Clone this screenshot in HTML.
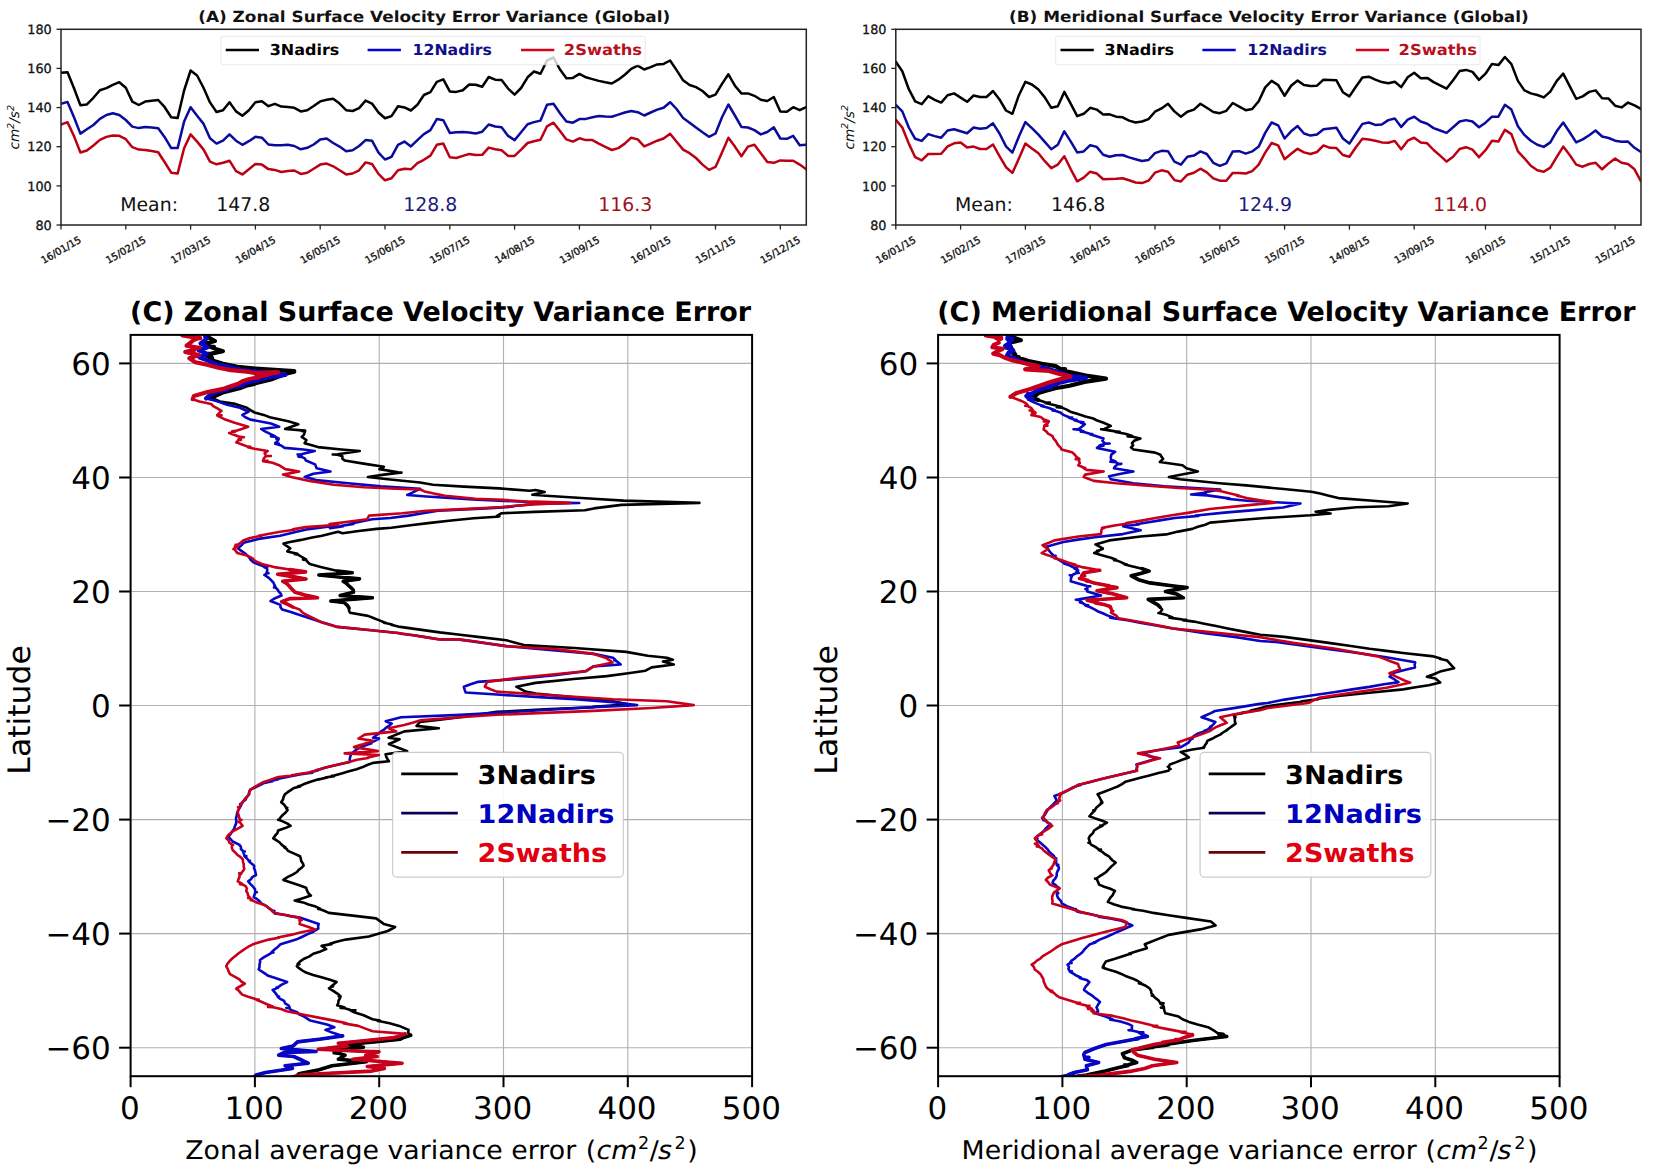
<!DOCTYPE html><html><head><meta charset="utf-8"><title>Surface Velocity Error Variance</title><style>html,body{margin:0;padding:0;background:#fff;overflow:hidden;}svg{display:block;} text{font-family:'DejaVu Sans', 'Liberation Sans', sans-serif;text-rendering:geometricPrecision;}</style></head><body>
<svg width="1654" height="1171" viewBox="0 0 1654 1171">
<rect x="0" y="0" width="1654" height="1171" fill="#fff"/>
<defs>
<clipPath id="cA"><rect x="61.0" y="29.3" width="745.3" height="195.7"/></clipPath>
<clipPath id="cB"><rect x="895.8" y="29.3" width="745.2" height="195.7"/></clipPath>
<clipPath id="cL"><rect x="130.6" y="334.9" width="621.5" height="741.3"/></clipPath>
<clipPath id="cR"><rect x="938.1" y="334.9" width="621.5" height="741.3"/></clipPath>
</defs>
<text transform="translate(198.20,21.50) scale(1.0970,1.0000)" font-size="15.4" font-weight="bold" fill="#111">(A) Zonal Surface Velocity Error Variance (Global)</text>
<polyline points="61.0,72.8 67.5,72.2 74.0,88.3 80.4,105.2 86.9,104.4 93.4,97.8 99.9,90.3 106.4,88.1 112.8,84.8 119.3,82.2 125.8,87.8 132.3,101.6 138.8,105.0 145.2,101.6 151.7,100.8 158.2,100.0 164.7,107.2 171.2,117.2 177.6,118.1 184.1,90.5 190.6,70.5 197.1,75.5 203.6,88.0 210.0,102.4 216.5,112.0 223.0,110.2 229.5,102.2 236.0,111.4 242.4,115.8 248.9,110.2 255.4,102.2 261.9,101.2 268.4,106.2 274.8,103.8 281.3,106.6 287.8,106.9 294.3,107.8 300.8,111.4 307.2,110.2 313.7,106.0 320.2,101.4 326.7,99.8 333.2,98.8 339.6,103.6 346.1,110.2 352.6,111.0 359.1,108.1 365.6,100.6 372.0,103.6 378.5,112.5 385.0,118.2 391.5,116.1 398.0,106.2 404.4,107.4 410.9,110.5 417.4,104.8 423.9,95.0 430.4,92.2 436.8,81.8 443.3,79.4 449.8,91.4 456.3,91.9 462.8,90.2 469.2,84.5 475.7,84.7 482.2,86.8 488.7,77.0 495.2,79.7 501.6,79.9 508.1,88.6 514.6,94.6 521.1,88.0 527.6,77.3 534.0,71.5 540.5,73.7 547.0,60.5 553.5,57.5 560.0,69.5 566.4,78.2 572.9,77.9 579.4,73.9 585.9,77.3 592.4,79.1 598.8,80.9 605.3,82.3 611.8,83.5 618.3,79.7 624.8,74.7 631.2,68.9 637.7,65.6 644.2,69.5 650.7,67.1 657.2,64.4 663.6,63.9 670.1,60.5 676.6,70.1 683.1,80.3 689.6,85.0 696.0,87.1 702.5,91.0 709.0,97.0 715.5,94.6 722.0,83.9 728.4,74.3 734.9,85.7 741.4,93.4 747.9,93.4 754.4,95.8 760.8,99.8 767.3,101.0 773.8,97.0 780.3,111.4 786.8,111.7 793.2,107.2 799.7,110.2 806.2,107.2" fill="none" stroke="#000" stroke-width="2.5" stroke-linejoin="round" stroke-linecap="round" clip-path="url(#cA)"/>
<polyline points="61.0,103.9 67.5,101.9 74.0,117.2 80.4,133.6 86.9,129.2 93.4,125.0 99.9,118.8 106.4,115.0 112.8,113.3 119.3,115.0 125.8,120.0 132.3,126.6 138.8,128.1 145.2,127.0 151.7,127.4 158.2,128.3 164.7,137.2 171.2,148.1 177.6,148.1 184.1,121.6 190.6,107.2 197.1,115.8 203.6,123.9 210.0,138.3 216.5,143.6 223.0,140.7 229.5,134.4 236.0,140.7 242.4,144.8 248.9,141.2 255.4,136.8 261.9,137.7 268.4,144.5 274.8,145.2 281.3,145.2 287.8,144.8 294.3,146.0 300.8,149.3 307.2,147.8 313.7,144.5 320.2,139.4 326.7,138.5 333.2,143.0 339.6,146.6 346.1,151.2 352.6,150.2 359.1,146.0 365.6,140.1 372.0,140.7 378.5,152.6 385.0,159.5 391.5,156.8 398.0,144.8 404.4,141.6 410.9,146.4 417.4,140.1 423.9,134.1 430.4,130.1 436.8,119.1 443.3,120.3 449.8,132.9 456.3,132.3 462.8,132.0 469.2,132.5 475.7,133.5 482.2,131.7 488.7,124.5 495.2,126.5 501.6,127.3 508.1,135.9 514.6,140.1 521.1,132.3 527.6,124.2 534.0,122.1 540.5,120.6 547.0,104.8 553.5,103.8 560.0,113.2 566.4,121.5 572.9,122.7 579.4,119.1 585.9,118.9 592.4,117.3 598.8,116.1 605.3,116.5 611.8,116.7 618.3,114.6 624.8,112.5 631.2,111.0 637.7,112.2 644.2,115.5 650.7,112.5 657.2,109.6 663.6,107.8 670.1,102.2 676.6,109.0 683.1,117.9 689.6,122.7 696.0,127.5 702.5,132.3 709.0,136.8 715.5,133.5 722.0,117.3 728.4,104.5 734.9,115.5 741.4,126.9 747.9,127.5 754.4,130.1 760.8,134.4 767.3,132.0 773.8,127.3 780.3,138.5 786.8,138.8 793.2,135.9 799.7,145.2 806.2,144.8" fill="none" stroke="#0a0a9c" stroke-width="2.5" stroke-linejoin="round" stroke-linecap="round" clip-path="url(#cA)"/>
<polyline points="61.0,124.7 67.5,122.2 74.0,136.1 80.4,152.5 86.9,150.5 93.4,145.5 99.9,139.9 106.4,136.9 112.8,135.5 119.3,135.8 125.8,139.2 132.3,147.2 138.8,149.6 145.2,149.9 151.7,151.1 158.2,152.2 164.7,162.2 171.2,172.7 177.6,173.6 184.1,148.3 190.6,134.4 197.1,141.6 203.6,149.6 210.0,161.6 216.5,164.3 223.0,162.8 229.5,160.7 236.0,171.1 242.4,174.4 248.9,169.3 255.4,164.0 261.9,164.6 268.4,169.1 274.8,169.9 281.3,172.0 287.8,171.1 294.3,170.5 300.8,173.9 307.2,172.7 313.7,168.7 320.2,164.6 326.7,163.6 333.2,166.3 339.6,170.3 346.1,174.4 352.6,173.5 359.1,170.3 365.6,162.4 372.0,164.0 378.5,173.9 385.0,180.3 391.5,178.3 398.0,170.3 404.4,168.7 410.9,169.3 417.4,163.1 423.9,159.8 430.4,155.6 436.8,144.8 443.3,143.6 449.8,157.2 456.3,158.0 462.8,155.9 469.2,154.0 475.7,155.0 482.2,154.8 488.7,147.6 495.2,149.3 501.6,150.2 508.1,155.9 514.6,155.9 521.1,149.6 527.6,143.0 534.0,141.2 540.5,139.7 547.0,126.3 553.5,122.7 560.0,131.1 566.4,139.4 572.9,141.6 579.4,138.3 585.9,140.1 592.4,140.1 598.8,143.6 605.3,146.9 611.8,150.0 618.3,148.1 624.8,143.6 631.2,137.7 637.7,139.4 644.2,146.4 650.7,143.6 657.2,140.7 663.6,138.5 670.1,133.7 676.6,141.8 683.1,149.6 689.6,153.2 696.0,158.0 702.5,164.6 709.0,169.9 715.5,166.9 722.0,152.6 728.4,137.7 734.9,146.6 741.4,156.2 747.9,146.6 754.4,144.8 760.8,153.2 767.3,161.9 773.8,162.8 780.3,160.4 786.8,160.7 793.2,160.7 799.7,164.6 806.2,169.3" fill="none" stroke="#bc0014" stroke-width="2.5" stroke-linejoin="round" stroke-linecap="round" clip-path="url(#cA)"/>
<line x1="56.5" y1="225.0" x2="61.0" y2="225.0" stroke="#222" stroke-width="1.3"/>
<text transform="translate(51.70,229.70)" font-size="12.8" text-anchor="end" fill="#111" stroke="#111" stroke-width="0.3">80</text>
<line x1="56.5" y1="185.9" x2="61.0" y2="185.9" stroke="#222" stroke-width="1.3"/>
<text transform="translate(51.70,190.56)" font-size="12.8" text-anchor="end" fill="#111" stroke="#111" stroke-width="0.3">100</text>
<line x1="56.5" y1="146.7" x2="61.0" y2="146.7" stroke="#222" stroke-width="1.3"/>
<text transform="translate(51.70,151.42)" font-size="12.8" text-anchor="end" fill="#111" stroke="#111" stroke-width="0.3">120</text>
<line x1="56.5" y1="107.6" x2="61.0" y2="107.6" stroke="#222" stroke-width="1.3"/>
<text transform="translate(51.70,112.28)" font-size="12.8" text-anchor="end" fill="#111" stroke="#111" stroke-width="0.3">140</text>
<line x1="56.5" y1="68.4" x2="61.0" y2="68.4" stroke="#222" stroke-width="1.3"/>
<text transform="translate(51.70,73.14)" font-size="12.8" text-anchor="end" fill="#111" stroke="#111" stroke-width="0.3">160</text>
<line x1="56.5" y1="29.3" x2="61.0" y2="29.3" stroke="#222" stroke-width="1.3"/>
<text transform="translate(51.70,34.00)" font-size="12.8" text-anchor="end" fill="#111" stroke="#111" stroke-width="0.3">180</text>
<line x1="61.0" y1="225.0" x2="61.0" y2="229.6" stroke="#222" stroke-width="1.3"/>
<text transform="translate(61.00,249.90) rotate(-30)" y="3.50" font-size="9.9" text-anchor="middle" fill="#111" stroke="#111" stroke-width="0.35">16/01/15</text>
<line x1="125.8" y1="225.0" x2="125.8" y2="229.6" stroke="#222" stroke-width="1.3"/>
<text transform="translate(125.80,249.90) rotate(-30)" y="3.50" font-size="9.9" text-anchor="middle" fill="#111" stroke="#111" stroke-width="0.35">15/02/15</text>
<line x1="190.6" y1="225.0" x2="190.6" y2="229.6" stroke="#222" stroke-width="1.3"/>
<text transform="translate(190.60,249.90) rotate(-30)" y="3.50" font-size="9.9" text-anchor="middle" fill="#111" stroke="#111" stroke-width="0.35">17/03/15</text>
<line x1="255.4" y1="225.0" x2="255.4" y2="229.6" stroke="#222" stroke-width="1.3"/>
<text transform="translate(255.40,249.90) rotate(-30)" y="3.50" font-size="9.9" text-anchor="middle" fill="#111" stroke="#111" stroke-width="0.35">16/04/15</text>
<line x1="320.2" y1="225.0" x2="320.2" y2="229.6" stroke="#222" stroke-width="1.3"/>
<text transform="translate(320.20,249.90) rotate(-30)" y="3.50" font-size="9.9" text-anchor="middle" fill="#111" stroke="#111" stroke-width="0.35">16/05/15</text>
<line x1="385.0" y1="225.0" x2="385.0" y2="229.6" stroke="#222" stroke-width="1.3"/>
<text transform="translate(385.00,249.90) rotate(-30)" y="3.50" font-size="9.9" text-anchor="middle" fill="#111" stroke="#111" stroke-width="0.35">15/06/15</text>
<line x1="449.8" y1="225.0" x2="449.8" y2="229.6" stroke="#222" stroke-width="1.3"/>
<text transform="translate(449.80,249.90) rotate(-30)" y="3.50" font-size="9.9" text-anchor="middle" fill="#111" stroke="#111" stroke-width="0.35">15/07/15</text>
<line x1="514.6" y1="225.0" x2="514.6" y2="229.6" stroke="#222" stroke-width="1.3"/>
<text transform="translate(514.60,249.90) rotate(-30)" y="3.50" font-size="9.9" text-anchor="middle" fill="#111" stroke="#111" stroke-width="0.35">14/08/15</text>
<line x1="579.4" y1="225.0" x2="579.4" y2="229.6" stroke="#222" stroke-width="1.3"/>
<text transform="translate(579.40,249.90) rotate(-30)" y="3.50" font-size="9.9" text-anchor="middle" fill="#111" stroke="#111" stroke-width="0.35">13/09/15</text>
<line x1="650.7" y1="225.0" x2="650.7" y2="229.6" stroke="#222" stroke-width="1.3"/>
<text transform="translate(650.68,249.90) rotate(-30)" y="3.50" font-size="9.9" text-anchor="middle" fill="#111" stroke="#111" stroke-width="0.35">16/10/15</text>
<line x1="715.5" y1="225.0" x2="715.5" y2="229.6" stroke="#222" stroke-width="1.3"/>
<text transform="translate(715.48,249.90) rotate(-30)" y="3.50" font-size="9.9" text-anchor="middle" fill="#111" stroke="#111" stroke-width="0.35">15/11/15</text>
<line x1="780.3" y1="225.0" x2="780.3" y2="229.6" stroke="#222" stroke-width="1.3"/>
<text transform="translate(780.28,249.90) rotate(-30)" y="3.50" font-size="9.9" text-anchor="middle" fill="#111" stroke="#111" stroke-width="0.35">15/12/15</text>
<text transform="translate(18.7,127.3) rotate(-90)" font-size="13.6" font-style="italic" text-anchor="middle" fill="#111">cm<tspan dy="-5.2" font-size="9.6">2</tspan><tspan dy="5.2">/s</tspan><tspan dy="-5.2" font-size="9.6">2</tspan></text>
<rect x="220.9" y="36.3" width="424.3" height="28.5" rx="2" fill="#fff" fill-opacity="0.8" stroke="#e2e2e2" stroke-width="0.8"/>
<line x1="225.7" y1="50" x2="259.0" y2="50" stroke="#000" stroke-width="2.5"/>
<text transform="translate(269.70,55.30) scale(1.0660,1.0000)" font-size="15" font-weight="bold" fill="#000">3Nadirs</text>
<line x1="367.6" y1="50" x2="400.9" y2="50" stroke="#0000d8" stroke-width="2.5"/>
<text transform="translate(412.50,55.30) scale(1.0490,1.0000)" font-size="15" font-weight="bold" fill="#10108a">12Nadirs</text>
<line x1="521.0" y1="50" x2="554.3" y2="50" stroke="#d8001c" stroke-width="2.5"/>
<text transform="translate(563.80,55.30) scale(1.0870,1.0000)" font-size="15" font-weight="bold" fill="#b8101c">2Swaths</text>
<text transform="translate(120.20,211.10)" font-size="18.9" fill="#111">Mean:</text>
<text transform="translate(216.30,211.10)" font-size="18.9" fill="#111">147.8</text>
<text transform="translate(403.20,211.10)" font-size="18.9" fill="#1a1a80">128.8</text>
<text transform="translate(598.20,211.10)" font-size="18.9" fill="#a01020">116.3</text>
<rect x="61.0" y="29.3" width="745.3" height="195.7" fill="none" stroke="#222" stroke-width="1.5"/>
<text transform="translate(1009.00,21.50) scale(1.0970,1.0000)" font-size="15.4" font-weight="bold" fill="#111">(B) Meridional Surface Velocity Error Variance (Global)</text>
<polyline points="895.8,61.7 902.3,71.3 908.8,89.2 915.2,101.4 921.7,104.2 928.2,96.2 934.7,99.8 941.2,102.6 947.6,95.2 954.1,93.4 960.6,97.6 967.1,101.8 973.6,95.5 980.0,97.0 986.5,97.0 993.0,91.0 999.5,99.4 1006.0,110.5 1012.4,113.8 1018.9,95.2 1025.4,81.8 1031.9,84.5 1038.4,89.5 1044.8,97.4 1051.3,107.8 1057.8,106.2 1064.3,91.9 1070.8,103.8 1077.2,116.1 1083.7,113.8 1090.2,107.8 1096.7,109.6 1103.2,114.6 1109.6,114.3 1116.1,116.7 1122.6,117.3 1129.1,120.6 1135.6,122.5 1142.0,121.5 1148.5,119.1 1155.0,111.7 1161.5,108.4 1168.0,103.8 1174.4,111.4 1180.9,116.7 1187.4,111.7 1193.9,109.6 1200.4,103.8 1206.8,107.8 1213.3,112.0 1219.8,113.2 1226.3,110.8 1232.8,103.0 1239.2,106.6 1245.7,110.2 1252.2,109.0 1258.7,101.2 1265.2,87.4 1271.6,80.9 1278.1,85.0 1284.6,95.8 1291.1,85.7 1297.6,80.6 1304.0,85.0 1310.5,85.9 1317.0,85.7 1323.5,79.7 1330.0,79.9 1336.4,80.3 1342.9,92.2 1349.4,96.4 1355.9,86.8 1362.4,77.5 1368.8,76.7 1375.3,79.7 1381.8,82.1 1388.3,83.3 1394.8,81.8 1401.2,87.1 1407.7,77.3 1414.2,72.7 1420.7,78.2 1427.2,77.9 1433.6,82.1 1440.1,85.4 1446.6,88.6 1453.1,80.3 1459.6,71.1 1466.0,69.9 1472.5,71.9 1479.0,79.9 1485.5,73.7 1492.0,63.9 1498.4,65.1 1504.9,57.0 1511.4,64.1 1517.9,80.9 1524.4,90.4 1530.8,93.4 1537.3,95.0 1543.8,97.4 1550.3,91.6 1556.8,80.9 1563.2,73.7 1569.7,86.2 1576.2,98.8 1582.7,96.4 1589.2,91.9 1595.6,90.4 1602.1,98.2 1608.6,98.6 1615.1,105.7 1621.6,107.4 1628.0,102.6 1634.5,105.4 1641.0,109.0" fill="none" stroke="#000" stroke-width="2.5" stroke-linejoin="round" stroke-linecap="round" clip-path="url(#cB)"/>
<polyline points="895.8,104.8 902.3,111.4 908.8,127.5 915.2,138.8 921.7,140.9 928.2,134.1 934.7,136.1 941.2,137.7 947.6,130.5 954.1,129.3 960.6,131.3 967.1,133.2 973.6,127.5 980.0,128.7 986.5,128.1 993.0,123.3 999.5,133.5 1006.0,146.4 1012.4,152.6 1018.9,136.5 1025.4,122.1 1031.9,128.1 1038.4,134.7 1044.8,141.8 1051.3,149.3 1057.8,144.8 1064.3,131.3 1070.8,141.6 1077.2,152.4 1083.7,151.4 1090.2,145.2 1096.7,146.9 1103.2,154.8 1109.6,156.8 1116.1,155.2 1122.6,155.0 1129.1,157.4 1135.6,159.2 1142.0,161.0 1148.5,160.0 1155.0,153.2 1161.5,150.8 1168.0,151.2 1174.4,161.6 1180.9,164.6 1187.4,156.8 1193.9,155.6 1200.4,151.4 1206.8,154.0 1213.3,162.8 1219.8,165.8 1226.3,163.4 1232.8,151.4 1239.2,151.2 1245.7,153.6 1252.2,151.4 1258.7,146.6 1265.2,132.9 1271.6,122.5 1278.1,125.3 1284.6,138.5 1291.1,131.3 1297.6,126.1 1304.0,133.5 1310.5,135.6 1317.0,134.4 1323.5,129.3 1330.0,128.4 1336.4,127.7 1342.9,138.5 1349.4,143.6 1355.9,133.5 1362.4,123.9 1368.8,122.5 1375.3,124.9 1381.8,124.5 1388.3,120.1 1394.8,118.5 1401.2,126.9 1407.7,119.7 1414.2,116.7 1420.7,121.5 1427.2,123.7 1433.6,128.1 1440.1,130.5 1446.6,132.9 1453.1,127.3 1459.6,121.5 1466.0,120.1 1472.5,121.5 1479.0,127.3 1485.5,122.7 1492.0,116.7 1498.4,116.7 1504.9,104.8 1511.4,109.6 1517.9,126.3 1524.4,134.9 1530.8,140.7 1537.3,144.8 1543.8,146.9 1550.3,142.4 1556.8,131.1 1563.2,122.5 1569.7,132.3 1576.2,142.4 1582.7,139.4 1589.2,135.3 1595.6,130.5 1602.1,136.5 1608.6,138.0 1615.1,140.7 1621.6,141.8 1628.0,141.6 1634.5,147.8 1641.0,152.0" fill="none" stroke="#0a0a9c" stroke-width="2.5" stroke-linejoin="round" stroke-linecap="round" clip-path="url(#cB)"/>
<polyline points="895.8,119.7 902.3,127.5 908.8,143.6 915.2,157.2 921.7,160.4 928.2,154.0 934.7,154.0 941.2,153.8 947.6,146.4 954.1,143.3 960.6,142.4 967.1,147.6 973.6,146.6 980.0,149.0 986.5,149.0 993.0,144.5 999.5,156.2 1006.0,167.2 1012.4,172.9 1018.9,158.6 1025.4,143.6 1031.9,148.4 1038.4,153.2 1044.8,161.2 1051.3,168.2 1057.8,164.6 1064.3,156.2 1070.8,169.3 1077.2,181.3 1083.7,177.7 1090.2,171.7 1096.7,173.5 1103.2,179.2 1109.6,178.9 1116.1,178.7 1122.6,178.3 1129.1,180.3 1135.6,182.5 1142.0,183.1 1148.5,180.7 1155.0,172.7 1161.5,170.3 1168.0,171.7 1174.4,180.1 1180.9,181.5 1187.4,174.7 1193.9,172.7 1200.4,168.7 1206.8,172.3 1213.3,178.3 1219.8,180.7 1226.3,180.7 1232.8,172.9 1239.2,172.9 1245.7,173.5 1252.2,171.1 1258.7,164.6 1265.2,152.6 1271.6,143.0 1278.1,145.4 1284.6,159.2 1291.1,153.8 1297.6,148.8 1304.0,152.4 1310.5,154.0 1317.0,152.0 1323.5,145.4 1330.0,147.8 1336.4,148.1 1342.9,155.0 1349.4,156.8 1355.9,147.2 1362.4,138.8 1368.8,139.4 1375.3,140.7 1381.8,142.4 1388.3,142.8 1394.8,140.9 1401.2,149.3 1407.7,140.7 1414.2,137.7 1420.7,142.4 1427.2,143.3 1433.6,150.0 1440.1,155.6 1446.6,161.6 1453.1,156.8 1459.6,149.0 1466.0,147.2 1472.5,149.6 1479.0,157.2 1485.5,150.2 1492.0,140.7 1498.4,141.6 1504.9,129.9 1511.4,134.1 1517.9,151.4 1524.4,158.3 1530.8,165.8 1537.3,170.3 1543.8,171.7 1550.3,167.6 1556.8,156.8 1563.2,146.6 1569.7,155.0 1576.2,164.6 1582.7,166.7 1589.2,164.0 1595.6,162.8 1602.1,169.3 1608.6,163.4 1615.1,158.6 1621.6,162.8 1628.0,164.0 1634.5,169.3 1641.0,181.3" fill="none" stroke="#bc0014" stroke-width="2.5" stroke-linejoin="round" stroke-linecap="round" clip-path="url(#cB)"/>
<line x1="891.3" y1="225.0" x2="895.8" y2="225.0" stroke="#222" stroke-width="1.3"/>
<text transform="translate(886.50,229.70)" font-size="12.8" text-anchor="end" fill="#111" stroke="#111" stroke-width="0.3">80</text>
<line x1="891.3" y1="185.9" x2="895.8" y2="185.9" stroke="#222" stroke-width="1.3"/>
<text transform="translate(886.50,190.56)" font-size="12.8" text-anchor="end" fill="#111" stroke="#111" stroke-width="0.3">100</text>
<line x1="891.3" y1="146.7" x2="895.8" y2="146.7" stroke="#222" stroke-width="1.3"/>
<text transform="translate(886.50,151.42)" font-size="12.8" text-anchor="end" fill="#111" stroke="#111" stroke-width="0.3">120</text>
<line x1="891.3" y1="107.6" x2="895.8" y2="107.6" stroke="#222" stroke-width="1.3"/>
<text transform="translate(886.50,112.28)" font-size="12.8" text-anchor="end" fill="#111" stroke="#111" stroke-width="0.3">140</text>
<line x1="891.3" y1="68.4" x2="895.8" y2="68.4" stroke="#222" stroke-width="1.3"/>
<text transform="translate(886.50,73.14)" font-size="12.8" text-anchor="end" fill="#111" stroke="#111" stroke-width="0.3">160</text>
<line x1="891.3" y1="29.3" x2="895.8" y2="29.3" stroke="#222" stroke-width="1.3"/>
<text transform="translate(886.50,34.00)" font-size="12.8" text-anchor="end" fill="#111" stroke="#111" stroke-width="0.3">180</text>
<line x1="895.8" y1="225.0" x2="895.8" y2="229.6" stroke="#222" stroke-width="1.3"/>
<text transform="translate(895.80,249.90) rotate(-30)" y="3.50" font-size="9.9" text-anchor="middle" fill="#111" stroke="#111" stroke-width="0.35">16/01/15</text>
<line x1="960.6" y1="225.0" x2="960.6" y2="229.6" stroke="#222" stroke-width="1.3"/>
<text transform="translate(960.60,249.90) rotate(-30)" y="3.50" font-size="9.9" text-anchor="middle" fill="#111" stroke="#111" stroke-width="0.35">15/02/15</text>
<line x1="1025.4" y1="225.0" x2="1025.4" y2="229.6" stroke="#222" stroke-width="1.3"/>
<text transform="translate(1025.40,249.90) rotate(-30)" y="3.50" font-size="9.9" text-anchor="middle" fill="#111" stroke="#111" stroke-width="0.35">17/03/15</text>
<line x1="1090.2" y1="225.0" x2="1090.2" y2="229.6" stroke="#222" stroke-width="1.3"/>
<text transform="translate(1090.20,249.90) rotate(-30)" y="3.50" font-size="9.9" text-anchor="middle" fill="#111" stroke="#111" stroke-width="0.35">16/04/15</text>
<line x1="1155.0" y1="225.0" x2="1155.0" y2="229.6" stroke="#222" stroke-width="1.3"/>
<text transform="translate(1155.00,249.90) rotate(-30)" y="3.50" font-size="9.9" text-anchor="middle" fill="#111" stroke="#111" stroke-width="0.35">16/05/15</text>
<line x1="1219.8" y1="225.0" x2="1219.8" y2="229.6" stroke="#222" stroke-width="1.3"/>
<text transform="translate(1219.80,249.90) rotate(-30)" y="3.50" font-size="9.9" text-anchor="middle" fill="#111" stroke="#111" stroke-width="0.35">15/06/15</text>
<line x1="1284.6" y1="225.0" x2="1284.6" y2="229.6" stroke="#222" stroke-width="1.3"/>
<text transform="translate(1284.60,249.90) rotate(-30)" y="3.50" font-size="9.9" text-anchor="middle" fill="#111" stroke="#111" stroke-width="0.35">15/07/15</text>
<line x1="1349.4" y1="225.0" x2="1349.4" y2="229.6" stroke="#222" stroke-width="1.3"/>
<text transform="translate(1349.40,249.90) rotate(-30)" y="3.50" font-size="9.9" text-anchor="middle" fill="#111" stroke="#111" stroke-width="0.35">14/08/15</text>
<line x1="1414.2" y1="225.0" x2="1414.2" y2="229.6" stroke="#222" stroke-width="1.3"/>
<text transform="translate(1414.20,249.90) rotate(-30)" y="3.50" font-size="9.9" text-anchor="middle" fill="#111" stroke="#111" stroke-width="0.35">13/09/15</text>
<line x1="1485.5" y1="225.0" x2="1485.5" y2="229.6" stroke="#222" stroke-width="1.3"/>
<text transform="translate(1485.48,249.90) rotate(-30)" y="3.50" font-size="9.9" text-anchor="middle" fill="#111" stroke="#111" stroke-width="0.35">16/10/15</text>
<line x1="1550.3" y1="225.0" x2="1550.3" y2="229.6" stroke="#222" stroke-width="1.3"/>
<text transform="translate(1550.28,249.90) rotate(-30)" y="3.50" font-size="9.9" text-anchor="middle" fill="#111" stroke="#111" stroke-width="0.35">15/11/15</text>
<line x1="1615.1" y1="225.0" x2="1615.1" y2="229.6" stroke="#222" stroke-width="1.3"/>
<text transform="translate(1615.08,249.90) rotate(-30)" y="3.50" font-size="9.9" text-anchor="middle" fill="#111" stroke="#111" stroke-width="0.35">15/12/15</text>
<text transform="translate(853.5,127.3) rotate(-90)" font-size="13.6" font-style="italic" text-anchor="middle" fill="#111">cm<tspan dy="-5.2" font-size="9.6">2</tspan><tspan dy="5.2">/s</tspan><tspan dy="-5.2" font-size="9.6">2</tspan></text>
<rect x="1055.7" y="36.3" width="424.3" height="28.5" rx="2" fill="#fff" fill-opacity="0.8" stroke="#e2e2e2" stroke-width="0.8"/>
<line x1="1060.5" y1="50" x2="1093.8" y2="50" stroke="#000" stroke-width="2.5"/>
<text transform="translate(1104.50,55.30) scale(1.0660,1.0000)" font-size="15" font-weight="bold" fill="#000">3Nadirs</text>
<line x1="1202.4" y1="50" x2="1235.7" y2="50" stroke="#0000d8" stroke-width="2.5"/>
<text transform="translate(1247.30,55.30) scale(1.0490,1.0000)" font-size="15" font-weight="bold" fill="#10108a">12Nadirs</text>
<line x1="1355.8" y1="50" x2="1389.1" y2="50" stroke="#d8001c" stroke-width="2.5"/>
<text transform="translate(1398.60,55.30) scale(1.0870,1.0000)" font-size="15" font-weight="bold" fill="#b8101c">2Swaths</text>
<text transform="translate(955.00,211.10)" font-size="18.9" fill="#111">Mean:</text>
<text transform="translate(1051.10,211.10)" font-size="18.9" fill="#111">146.8</text>
<text transform="translate(1238.00,211.10)" font-size="18.9" fill="#1a1a80">124.9</text>
<text transform="translate(1433.00,211.10)" font-size="18.9" fill="#a01020">114.0</text>
<rect x="895.8" y="29.3" width="745.2" height="195.7" fill="none" stroke="#222" stroke-width="1.5"/>
<text transform="translate(130.10,321.20) scale(1.0045,1.0000)" font-size="26.8" font-weight="bold" fill="#000">(C) Zonal Surface Velocity Variance Error</text>
<line x1="254.9" y1="334.9" x2="254.9" y2="1076.2" stroke="#b0b0b0" stroke-width="1.1"/>
<line x1="379.2" y1="334.9" x2="379.2" y2="1076.2" stroke="#b0b0b0" stroke-width="1.1"/>
<line x1="503.5" y1="334.9" x2="503.5" y2="1076.2" stroke="#b0b0b0" stroke-width="1.1"/>
<line x1="627.8" y1="334.9" x2="627.8" y2="1076.2" stroke="#b0b0b0" stroke-width="1.1"/>
<line x1="130.6" y1="1047.7" x2="752.1" y2="1047.7" stroke="#b0b0b0" stroke-width="1.1"/>
<line x1="130.6" y1="933.6" x2="752.1" y2="933.6" stroke="#b0b0b0" stroke-width="1.1"/>
<line x1="130.6" y1="819.6" x2="752.1" y2="819.6" stroke="#b0b0b0" stroke-width="1.1"/>
<line x1="130.6" y1="705.5" x2="752.1" y2="705.5" stroke="#b0b0b0" stroke-width="1.1"/>
<line x1="130.6" y1="591.5" x2="752.1" y2="591.5" stroke="#b0b0b0" stroke-width="1.1"/>
<line x1="130.6" y1="477.5" x2="752.1" y2="477.5" stroke="#b0b0b0" stroke-width="1.1"/>
<line x1="130.6" y1="363.4" x2="752.1" y2="363.4" stroke="#b0b0b0" stroke-width="1.1"/>
<polyline points="208.0,335.5 205.1,335.8 208.0,336.1 209.7,338.2 214.9,341.0 203.2,344.1 210.8,346.5 213.9,346.8 210.8,347.1 215.6,348.9 222.9,351.2 211.3,353.6 208.1,353.9 211.3,354.2 210.5,355.7 206.8,356.0 210.5,356.3 209.4,357.8 212.2,358.1 209.4,358.4 210.6,359.9 223.0,363.8 237.4,366.9 255.2,368.5 294.2,371.2 291.0,371.5 294.2,371.8 286.9,373.4 281.3,375.6 270.9,379.5 254.4,383.4 250.8,383.7 254.4,384.0 246.0,385.8 239.6,388.2 223.7,392.1 217.6,394.8 211.1,397.6 219.9,401.5 235.2,403.9 246.9,407.8 250.5,410.2 254.5,412.5 263.7,414.9 269.8,417.2 288.2,421.2 298.3,424.3 291.2,426.7 285.1,429.0 305.1,430.6 301.2,430.9 305.1,431.2 304.6,432.7 303.8,434.8 301.7,436.9 306.4,440.0 304.6,443.2 318.0,447.1 341.5,449.5 359.8,451.0 337.7,454.2 332.7,454.5 337.7,454.8 342.4,456.3 342.2,458.4 344.7,460.5 363.5,463.6 383.9,466.8 379.4,469.1 398.2,472.2 401.5,472.6 398.2,472.9 384.1,474.6 367.9,477.0 387.8,479.3 420.0,482.5 433.0,484.8 463.8,486.6 499.2,488.4 529.8,490.8 535.5,490.0 544.7,491.9 532.3,494.8 546.1,495.8 593.4,498.7 623.5,500.6 699.4,502.9 621.5,504.9 593.8,508.4 584.9,510.3 534.8,511.9 501.7,513.2 496.6,516.1 499.4,516.4 496.6,516.7 473.7,518.3 451.3,520.5 430.2,522.9 410.5,525.3 391.2,527.7 376.7,528.9 358.7,531.0 342.6,533.2 338.1,531.8 322.0,535.7 310.9,537.8 301.1,539.9 290.0,542.0 283.5,543.6 286.6,545.9 290.2,548.3 287.3,551.4 297.5,553.8 294.7,554.1 297.5,554.4 301.1,556.5 306.1,559.3 303.0,559.6 306.1,559.9 307.4,561.7 309.8,564.0 320.7,567.1 337.6,571.1 352.2,572.7 318.9,575.0 359.5,578.9 343.2,581.3 346.6,583.4 348.5,585.5 350.9,587.6 353.2,589.9 353.5,592.3 340.2,595.5 372.4,597.8 330.9,601.0 344.0,602.5 347.3,605.3 349.0,608.0 349.0,610.4 350.0,612.7 368.1,615.9 373.4,618.0 378.8,620.1 384.0,622.2 385.4,622.5 384.0,622.8 392.2,624.5 391.0,624.8 392.2,625.1 400.1,626.9 419.9,629.6 439.7,632.4 458.1,634.5 482.1,637.4 506.4,640.3 515.3,642.7 523.9,645.1 574.5,648.0 626.2,651.9 647.8,655.8 666.9,657.7 672.9,659.7 662.9,661.6 673.8,664.5 651.7,667.4 645.5,670.7 628.2,673.2 606.8,676.1 573.8,679.0 535.6,682.9 516.3,686.7 520.9,689.2 525.5,691.6 535.8,693.5 574.1,697.4 613.0,701.2 628.1,704.2 593.2,706.7 594.0,707.0 593.2,707.3 545.0,709.3 496.7,711.9 478.6,714.6 459.9,717.3 439.9,719.6 420.0,722.0 416.6,725.9 438.8,728.3 404.4,731.4 398.9,733.5 393.7,735.6 388.6,737.7 399.6,739.3 394.2,741.7 388.9,744.0 394.7,746.4 400.9,748.7 407.2,751.1 385.6,754.2 386.2,756.6 387.4,758.9 388.9,761.3 373.1,762.9 367.2,765.0 362.7,767.1 356.6,769.2 348.9,771.3 341.6,773.4 334.2,775.5 331.8,775.8 334.2,776.1 325.2,777.5 326.7,777.8 325.2,778.1 317.6,779.6 310.5,781.7 304.8,783.8 300.1,785.9 298.1,786.2 300.1,786.5 293.9,788.0 290.8,790.1 287.7,792.2 284.9,794.3 283.6,796.9 283.0,799.5 281.2,802.2 284.2,804.8 286.1,807.4 287.3,807.7 286.1,808.0 287.6,810.0 285.7,812.4 283.0,814.7 280.8,817.1 279.2,819.5 278.1,819.8 279.2,820.1 283.2,821.6 287.5,823.7 290.6,825.8 285.2,828.1 278.2,830.5 277.4,833.1 275.1,835.7 273.3,838.3 276.6,840.4 279.7,842.5 281.6,844.6 284.3,846.7 285.3,847.0 284.3,847.3 286.6,848.8 288.1,850.9 294.2,853.6 300.0,856.3 300.8,858.6 301.2,861.0 302.9,863.4 303.6,865.7 301.6,867.8 298.7,869.9 297.0,872.0 292.6,874.6 287.5,877.2 283.4,879.9 290.9,882.5 298.5,885.1 306.1,887.7 306.9,890.3 308.2,893.0 310.9,895.6 303.6,897.9 296.2,900.3 294.7,900.6 296.2,900.9 303.1,902.4 308.5,904.5 315.7,906.6 320.1,908.7 318.2,909.0 320.1,909.3 324.1,910.8 328.8,912.9 352.8,915.6 376.1,918.4 379.9,921.1 383.8,923.9 395.1,927.0 387.8,931.0 378.3,933.7 368.9,936.5 345.7,939.6 336.5,941.7 329.9,943.8 331.7,944.1 329.9,944.4 321.6,945.9 326.2,949.0 320.6,951.4 313.3,953.7 309.5,956.4 303.6,959.0 299.9,961.6 297.7,964.0 299.5,964.3 297.7,964.6 296.8,966.3 299.4,968.4 302.4,970.5 306.0,972.6 313.1,975.0 321.5,977.3 330.0,979.7 336.6,982.0 334.2,984.1 331.3,986.2 333.0,986.5 331.3,986.8 329.0,988.3 333.2,990.9 337.3,993.6 340.5,996.2 338.8,996.5 340.5,996.8 339.8,998.5 338.5,1000.7 338.3,1003.0 337.2,1005.3 344.7,1007.6 340.5,1007.9 344.7,1008.2 350.6,1010.0 355.4,1010.2 350.6,1010.6 354.9,1012.6 363.6,1015.3 372.6,1019.3 379.9,1020.6 377.6,1020.9 379.9,1021.2 389.6,1023.2 399.2,1025.9 408.6,1029.9 408.1,1032.6 410.7,1035.2 404.4,1037.2 400.3,1039.2 373.7,1041.9 346.6,1044.5 363.4,1047.2 333.6,1049.9 338.1,1052.5 334.1,1052.8 338.1,1053.1 345.0,1055.2 338.4,1059.2 366.2,1061.8 332.1,1065.8 319.2,1069.8 298.9,1073.8 295.8,1076.7" fill="none" stroke="#000" stroke-width="2.6" stroke-linejoin="round" stroke-linecap="round" clip-path="url(#cL)"/>
<polyline points="208.0,335.5 205.1,335.8 208.0,336.1 209.7,338.2 214.9,341.0 203.2,344.1 210.8,346.5 213.9,346.8 210.8,347.1 215.6,348.9 222.9,351.2 211.3,353.6 208.1,353.9 211.3,354.2 210.5,355.7 206.8,356.0 210.5,356.3 209.4,357.8 212.2,358.1 209.4,358.4 210.6,359.9 223.0,363.8 237.4,366.9 255.2,368.5 294.2,371.2 291.0,371.5 294.2,371.8 286.9,373.4 281.3,375.6 270.9,379.5 254.4,383.4 250.8,383.7 254.4,384.0 246.0,385.8 239.6,388.2 223.7,392.1 217.6,394.8 211.1,397.6" fill="none" stroke="#000" stroke-width="4.2" stroke-linejoin="round" stroke-linecap="round" clip-path="url(#cL)"/>
<polyline points="410.7,1035.2 404.4,1037.2 400.3,1039.2 373.7,1041.9 346.6,1044.5 363.4,1047.2 333.6,1049.9 338.1,1052.5 334.1,1052.8 338.1,1053.1 345.0,1055.2 338.4,1059.2 366.2,1061.8 332.1,1065.8 319.2,1069.8 298.9,1073.8 295.8,1076.7" fill="none" stroke="#000" stroke-width="3.6" stroke-linejoin="round" stroke-linecap="round" clip-path="url(#cL)"/>
<polyline points="337.6,571.1 352.2,572.7 318.9,575.0 359.5,578.9 343.2,581.3 346.6,583.4 348.5,585.5 350.9,587.6 353.2,589.9 353.5,592.3 340.2,595.5 372.4,597.8 330.9,601.0 344.0,602.5 347.3,605.3 349.0,608.0" fill="none" stroke="#000" stroke-width="3.6" stroke-linejoin="round" stroke-linecap="round" clip-path="url(#cL)"/>
<polyline points="205.0,335.5 205.9,339.4 200.6,343.4 207.8,347.3 198.6,350.4 206.9,353.6 199.5,357.5 206.1,359.9 215.5,363.8 231.5,367.7 247.1,370.9 270.6,372.4 285.4,374.8 270.2,377.1 255.3,380.3 258.1,380.6 255.3,380.9 246.0,382.7 239.2,385.0 243.8,385.3 239.2,385.6 230.3,387.4 227.8,387.7 230.3,388.0 222.8,389.7 227.0,390.0 222.8,390.3 217.2,392.1 210.7,394.4 206.1,398.4 215.6,400.7 227.3,404.7 239.9,407.8 248.7,411.7 242.4,414.9 245.3,417.2 250.4,419.6 270.9,423.5 279.2,426.7 261.2,429.0 265.0,431.4 269.7,433.7 274.9,436.1 271.0,436.4 274.9,436.7 278.6,438.5 276.3,438.8 278.6,439.1 277.7,440.8 275.2,443.2 278.8,443.5 275.2,443.8 281.1,445.5 284.6,447.9 303.5,449.5 314.7,451.0 301.2,454.2 297.5,454.5 301.2,454.8 301.6,456.3 298.4,456.6 301.6,456.9 304.7,458.4 305.9,460.5 315.1,464.4 316.6,468.3 330.5,471.5 313.3,473.8 304.7,477.0 316.2,480.1 348.4,483.2 380.9,486.4 420.0,488.8 415.8,490.8 411.8,492.9 407.3,495.0 426.6,496.5 476.9,499.7 534.1,502.2 579.2,503.0 534.7,504.0 511.4,506.2 513.6,506.5 511.4,506.8 486.1,508.4 438.1,510.8 422.8,513.2 408.7,515.6 390.2,518.0 372.2,519.2 361.0,521.5 350.4,523.8 353.6,524.0 350.4,524.4 340.4,526.0 343.1,526.3 340.4,526.6 330.0,528.3 337.2,525.5 306.5,529.4 297.6,531.5 289.4,533.6 280.1,535.7 258.5,538.9 243.6,542.8 241.3,545.5 237.8,548.3 240.6,550.4 243.8,552.5 246.3,554.6 249.1,557.2 250.6,559.8 253.4,562.4 258.8,564.5 264.1,566.6 267.4,566.9 264.1,567.2 267.1,568.7 267.3,570.8 266.5,572.9 268.5,573.2 266.5,573.5 264.4,575.0 268.5,577.6 271.1,580.2 273.6,582.9 274.4,585.0 275.6,587.1 274.0,587.4 275.6,587.7 277.3,589.2 278.6,591.3 280.5,593.4 281.5,595.5 275.1,598.2 270.5,601.0 280.4,604.9 280.5,607.2 282.3,609.6 290.8,612.0 297.5,614.3 305.9,616.9 313.6,619.5 321.8,622.2 329.4,624.5 337.5,626.9 368.8,630.0 400.4,633.2 399.7,633.5 400.4,633.8 413.6,635.3 426.9,637.4 440.0,639.5 457.9,639.4 474.4,641.6 490.4,643.9 506.4,646.1 535.6,648.7 564.1,651.3 593.6,653.9 613.0,657.7 615.5,660.0 614.2,660.3 615.5,660.6 618.0,662.2 620.7,664.5 593.3,666.4 589.5,668.8 585.5,671.3 554.8,675.1 516.1,679.0 477.6,681.9 470.5,684.3 463.9,686.7 464.6,689.6 465.7,692.5 496.8,694.5 535.2,696.9 574.4,699.3 612.9,702.2 637.1,705.1 593.2,707.1 544.7,710.0 496.9,712.9 460.4,714.9 401.1,717.3 385.7,721.2 391.8,723.6 389.4,725.6 386.1,727.6 384.1,729.6 380.7,731.7 378.5,733.7 375.7,735.7 373.1,737.7 379.0,738.5 374.8,740.9 370.0,743.2 371.3,743.5 370.0,743.8 365.0,745.6 357.6,748.7 354.1,751.5 351.0,754.2 350.2,756.9 349.7,759.5 349.6,762.1 337.7,764.8 325.8,767.6 317.8,769.9 315.8,770.2 317.8,770.5 310.2,772.3 312.5,772.6 310.2,772.9 299.6,774.4 289.6,776.5 278.3,778.6 276.9,778.9 278.3,779.2 271.0,781.0 272.8,781.2 271.0,781.6 263.3,783.3 259.4,785.4 254.9,787.5 250.1,789.6 249.1,792.2 248.6,794.8 246.5,797.5 245.7,799.5 243.2,801.6 241.5,803.7 240.1,804.0 241.5,804.3 240.7,806.1 239.2,808.5 238.1,810.8 237.1,813.2 236.6,815.8 236.0,818.4 236.3,821.0 236.1,823.6 234.9,826.3 234.1,828.9 232.1,831.5 230.5,834.1 228.3,836.8 230.6,839.1 232.6,841.5 239.2,844.6 240.9,846.8 240.9,849.0 243.2,851.2 244.9,851.5 243.2,851.8 243.7,853.4 244.5,855.7 246.4,856.0 244.5,856.3 246.4,857.9 248.7,860.5 250.0,860.8 248.7,861.1 250.9,863.1 254.2,865.7 254.0,868.1 255.0,870.4 255.5,872.8 256.0,875.1 252.2,877.2 250.9,879.3 248.2,881.4 250.5,884.1 253.1,886.7 255.0,889.3 255.2,891.9 256.9,892.2 255.2,892.5 254.6,894.5 253.7,897.1 257.1,899.2 259.6,901.3 261.3,903.4 266.1,905.8 268.9,908.2 272.3,910.5 274.3,910.8 272.3,911.1 274.7,912.9 276.7,913.2 274.7,913.5 287.4,915.2 288.7,915.5 287.4,915.8 299.7,917.6 309.3,920.7 318.7,923.9 318.1,926.2 318.3,928.6 313.3,931.7 307.2,934.4 301.8,937.0 296.0,939.6 287.9,942.0 280.5,944.3 277.8,946.9 274.5,949.5 271.6,952.2 273.4,952.5 271.6,952.8 268.1,954.8 263.7,957.4 260.0,960.0 260.1,962.4 259.5,964.7 259.5,967.1 258.7,969.5 262.0,971.6 265.1,973.7 268.3,975.8 274.5,977.8 281.2,979.9 287.1,982.0 281.7,984.6 277.9,987.3 276.4,987.6 277.9,987.9 272.6,989.9 274.6,992.0 276.2,994.1 277.7,996.2 279.0,996.5 277.7,996.8 279.8,998.6 284.1,1000.9 285.1,1003.3 288.7,1005.5 289.7,1007.7 286.3,1008.0 289.7,1008.3 290.8,1010.0 297.3,1012.2 299.1,1014.4 304.2,1016.6 310.3,1020.6 327.0,1024.6 334.4,1027.2 325.4,1029.9 332.2,1032.6 342.7,1035.9 319.5,1039.2 297.5,1041.9 293.2,1045.9 281.4,1048.5 316.0,1051.5 284.0,1052.5 278.7,1055.2 293.7,1056.5 302.6,1060.5 308.1,1063.2 285.1,1065.8 292.4,1068.5 265.7,1072.5 256.0,1075.1 254.5,1076.7" fill="none" stroke="#0606c4" stroke-width="2.6" stroke-linejoin="round" stroke-linecap="round" clip-path="url(#cL)"/>
<polyline points="205.0,335.5 205.9,339.4 200.6,343.4 207.8,347.3 198.6,350.4 206.9,353.6 199.5,357.5 206.1,359.9 215.5,363.8 231.5,367.7 247.1,370.9 270.6,372.4 285.4,374.8 270.2,377.1 255.3,380.3 258.1,380.6 255.3,380.9 246.0,382.7 239.2,385.0 243.8,385.3 239.2,385.6 230.3,387.4 227.8,387.7 230.3,388.0 222.8,389.7 227.0,390.0 222.8,390.3 217.2,392.1 210.7,394.4 206.1,398.4" fill="none" stroke="#0606c4" stroke-width="4.2" stroke-linejoin="round" stroke-linecap="round" clip-path="url(#cL)"/>
<polyline points="342.7,1035.9 319.5,1039.2 297.5,1041.9 293.2,1045.9 281.4,1048.5 316.0,1051.5 284.0,1052.5 278.7,1055.2 293.7,1056.5 302.6,1060.5 308.1,1063.2 285.1,1065.8 292.4,1068.5 265.7,1072.5 256.0,1075.1 254.5,1076.7" fill="none" stroke="#0606c4" stroke-width="3.6" stroke-linejoin="round" stroke-linecap="round" clip-path="url(#cL)"/>
<polyline points="182.5,335.5 197.3,337.9 200.3,338.2 197.3,338.5 193.5,340.2 190.5,342.6 186.6,345.7 196.1,347.3 199.6,347.6 196.1,347.9 191.8,349.6 194.4,349.9 191.8,350.2 185.3,352.0 199.0,355.1 189.4,358.3 195.3,362.2 207.0,364.6 218.5,367.7 231.0,370.1 246.8,371.6 256.3,373.2 275.4,372.1 278.3,372.4 275.4,372.7 265.2,374.6 267.6,374.9 265.2,375.2 255.6,377.1 258.5,377.4 255.6,377.8 248.6,379.2 242.4,381.3 239.0,383.4 230.7,386.2 223.3,388.9 207.5,392.1 193.9,396.0 192.7,399.2 199.4,401.5 211.2,403.9 213.2,406.2 217.8,408.6 221.4,410.9 217.3,414.9 221.6,415.2 217.3,415.5 220.5,417.2 225.3,419.6 234.6,422.7 248.2,426.7 242.4,428.8 235.6,430.9 232.2,431.2 235.6,431.5 229.1,433.0 240.1,436.9 244.0,437.2 240.1,437.5 238.4,439.6 241.0,439.9 238.4,440.2 236.3,442.4 242.0,444.5 247.8,446.6 250.4,446.9 247.8,447.2 254.3,448.7 267.7,451.0 264.6,453.4 265.9,455.7 270.9,456.0 265.9,456.3 264.0,458.1 263.1,460.5 267.6,460.8 263.1,461.1 272.5,462.8 279.0,465.2 285.3,469.1 299.2,471.5 283.0,474.6 291.2,477.0 309.4,480.9 333.8,484.8 364.1,487.2 396.0,488.8 420.5,489.5 424.4,491.4 433.9,493.6 445.1,495.7 475.4,498.7 503.4,499.9 529.1,501.7 535.9,501.6 570.2,502.9 535.9,504.1 499.6,507.2 451.9,509.6 426.5,510.8 402.2,513.2 369.1,515.6 367.2,519.2 347.9,521.7 329.6,524.1 338.2,524.7 305.7,527.1 292.8,529.4 294.4,529.7 292.8,530.0 280.2,531.8 258.7,535.7 261.5,536.0 258.7,536.3 250.1,538.1 243.2,540.4 241.0,542.5 237.9,544.6 235.6,544.9 237.9,545.2 234.8,546.7 237.7,547.0 234.8,547.3 235.0,548.8 233.4,549.1 235.0,549.4 235.7,550.9 237.3,553.0 246.8,555.4 252.3,558.1 255.0,560.9 261.8,564.0 274.1,567.1 289.7,569.5 305.6,571.9 277.6,574.2 292.6,576.6 306.0,578.9 282.7,581.3 286.9,583.7 289.2,586.0 290.9,588.1 293.1,590.2 295.0,592.3 305.0,595.1 317.5,597.8 289.8,598.6 281.6,601.7 287.8,604.4 292.8,607.0 299.9,609.6 301.9,612.0 305.2,614.3 310.7,616.9 315.8,619.5 321.3,622.2 329.2,624.5 337.0,626.9 368.9,630.0 400.2,633.2 413.5,635.3 426.8,637.4 439.7,639.5 458.4,639.4 473.6,641.3 490.2,643.7 506.3,646.1 554.6,649.0 573.9,651.4 593.8,653.9 605.4,657.7 609.3,660.1 612.5,662.6 593.8,666.4 589.6,668.8 585.4,671.3 554.6,674.2 516.3,678.0 487.2,681.9 486.0,684.3 484.8,686.7 490.5,689.2 496.6,691.6 554.9,695.5 612.9,699.3 667.0,701.2 693.7,705.1 651.3,708.0 593.3,710.9 496.6,714.8 459.7,717.3 419.9,720.4 412.5,722.8 404.2,725.1 388.8,728.3 396.2,731.4 364.7,734.6 358.5,738.5 373.0,740.9 366.3,743.0 365.4,743.3 366.3,743.6 360.1,745.1 354.0,747.1 377.9,751.1 344.7,753.4 378.9,755.0 368.2,757.4 367.4,757.7 368.2,758.0 356.9,759.7 349.2,762.1 336.9,764.8 325.3,767.6 317.4,769.9 310.0,772.3 294.4,774.7 292.1,775.0 294.4,775.3 278.3,777.0 270.7,779.8 262.4,782.5 258.3,784.9 254.4,787.2 250.8,789.6 249.4,792.0 249.3,794.3 247.3,796.4 245.1,798.5 243.8,800.6 241.9,802.7 240.5,804.8 239.3,806.9 238.0,807.2 239.3,807.5 238.8,809.0 237.8,811.1 237.9,813.2 238.7,815.3 239.1,817.4 240.0,819.5 241.5,819.8 240.0,820.1 240.0,821.6 238.4,821.9 240.0,822.2 241.0,823.7 242.6,825.8 238.7,828.1 234.2,830.5 231.0,832.8 228.1,835.2 226.3,838.3 228.6,840.4 229.3,842.5 232.0,844.6 233.1,844.9 232.0,845.2 231.8,847.3 232.6,850.0 235.1,852.4 237.2,854.7 240.6,857.1 242.8,859.4 243.0,861.8 243.7,864.1 243.7,866.5 244.3,868.9 243.0,871.0 241.2,873.1 239.1,873.4 241.2,873.7 239.6,875.1 239.5,877.2 238.4,879.3 237.8,881.4 242.2,883.8 239.9,884.1 242.2,884.4 245.6,886.1 246.9,888.5 246.2,890.9 247.6,893.2 248.1,895.6 250.0,897.7 248.1,898.0 250.0,898.3 252.3,899.8 250.7,900.1 252.3,900.4 255.4,901.9 264.4,905.0 268.5,907.6 271.3,910.2 274.9,912.9 286.2,915.2 299.1,917.6 299.4,919.7 301.8,920.0 299.4,920.3 300.1,921.8 299.6,923.9 308.6,927.0 315.2,929.4 302.5,932.1 290.6,934.9 279.0,937.2 277.6,937.5 279.0,937.8 268.7,939.6 260.3,942.0 252.9,944.3 248.9,946.4 245.5,948.5 242.4,950.6 238.7,953.2 235.6,955.8 232.2,958.5 229.6,961.1 227.5,963.7 226.2,966.3 227.7,968.9 228.7,971.6 230.0,974.2 235.9,977.3 239.4,979.4 241.2,981.5 244.9,983.6 240.7,986.0 236.4,988.3 237.9,988.6 236.4,988.9 238.6,990.4 240.2,992.5 242.2,994.6 248.9,997.0 256.4,999.3 258.7,999.6 256.4,999.9 261.3,1001.8 267.0,1004.2 273.1,1006.6 268.0,1006.9 273.1,1007.2 281.0,1009.0 286.7,1011.3 306.4,1015.3 319.8,1017.9 334.2,1020.6 346.7,1023.2 343.8,1023.5 346.7,1023.9 358.3,1025.9 365.4,1028.6 372.6,1031.2 405.1,1033.9 400.0,1035.9 392.4,1037.9 366.3,1040.5 338.3,1043.2 347.3,1045.9 318.3,1049.2 360.5,1051.2 379.0,1051.8 365.8,1055.2 377.1,1056.5 352.9,1059.2 402.0,1063.2 367.4,1066.5 384.4,1068.5 371.7,1071.1 320.2,1073.8 301.2,1075.1 293.1,1076.7" fill="none" stroke="#c8001c" stroke-width="2.6" stroke-linejoin="round" stroke-linecap="round" clip-path="url(#cL)"/>
<polyline points="182.5,335.5 197.3,337.9 200.3,338.2 197.3,338.5 193.5,340.2 190.5,342.6 186.6,345.7 196.1,347.3 199.6,347.6 196.1,347.9 191.8,349.6 194.4,349.9 191.8,350.2 185.3,352.0 199.0,355.1 189.4,358.3 195.3,362.2 207.0,364.6 218.5,367.7 231.0,370.1 246.8,371.6 256.3,373.2 275.4,372.1 278.3,372.4 275.4,372.7 265.2,374.6 267.6,374.9 265.2,375.2 255.6,377.1 258.5,377.4 255.6,377.8 248.6,379.2 242.4,381.3 239.0,383.4 230.7,386.2 223.3,388.9 207.5,392.1 193.9,396.0 192.7,399.2" fill="none" stroke="#c8001c" stroke-width="4.2" stroke-linejoin="round" stroke-linecap="round" clip-path="url(#cL)"/>
<polyline points="405.1,1033.9 400.0,1035.9 392.4,1037.9 366.3,1040.5 338.3,1043.2 347.3,1045.9 318.3,1049.2 360.5,1051.2 379.0,1051.8 365.8,1055.2 377.1,1056.5 352.9,1059.2 402.0,1063.2 367.4,1066.5 384.4,1068.5 371.7,1071.1 320.2,1073.8 301.2,1075.1 293.1,1076.7" fill="none" stroke="#c8001c" stroke-width="3.6" stroke-linejoin="round" stroke-linecap="round" clip-path="url(#cL)"/>
<polyline points="289.7,569.5 305.6,571.9 277.6,574.2 292.6,576.6 306.0,578.9 282.7,581.3 286.9,583.7 289.2,586.0 290.9,588.1 293.1,590.2 295.0,592.3 305.0,595.1 317.5,597.8 289.8,598.6 281.6,601.7 287.8,604.4 292.8,607.0" fill="none" stroke="#c8001c" stroke-width="3.6" stroke-linejoin="round" stroke-linecap="round" clip-path="url(#cL)"/>
<line x1="130.6" y1="1076.2" x2="130.6" y2="1087.2" stroke="#000" stroke-width="2"/>
<text transform="translate(129.80,1118.90)" font-size="31" text-anchor="middle" fill="#000">0</text>
<line x1="254.9" y1="1076.2" x2="254.9" y2="1087.2" stroke="#000" stroke-width="2"/>
<text transform="translate(254.10,1118.90)" font-size="31" text-anchor="middle" fill="#000">100</text>
<line x1="379.2" y1="1076.2" x2="379.2" y2="1087.2" stroke="#000" stroke-width="2"/>
<text transform="translate(378.40,1118.90)" font-size="31" text-anchor="middle" fill="#000">200</text>
<line x1="503.5" y1="1076.2" x2="503.5" y2="1087.2" stroke="#000" stroke-width="2"/>
<text transform="translate(502.70,1118.90)" font-size="31" text-anchor="middle" fill="#000">300</text>
<line x1="627.8" y1="1076.2" x2="627.8" y2="1087.2" stroke="#000" stroke-width="2"/>
<text transform="translate(627.00,1118.90)" font-size="31" text-anchor="middle" fill="#000">400</text>
<line x1="752.1" y1="1076.2" x2="752.1" y2="1087.2" stroke="#000" stroke-width="2"/>
<text transform="translate(751.30,1118.90)" font-size="31" text-anchor="middle" fill="#000">500</text>
<line x1="119.1" y1="1047.7" x2="130.6" y2="1047.7" stroke="#000" stroke-width="2"/>
<text transform="translate(110.80,1047.69)" y="11.30" font-size="31" text-anchor="end" fill="#000">−60</text>
<line x1="119.1" y1="933.6" x2="130.6" y2="933.6" stroke="#000" stroke-width="2"/>
<text transform="translate(110.80,933.64)" y="11.30" font-size="31" text-anchor="end" fill="#000">−40</text>
<line x1="119.1" y1="819.6" x2="130.6" y2="819.6" stroke="#000" stroke-width="2"/>
<text transform="translate(110.80,819.60)" y="11.30" font-size="31" text-anchor="end" fill="#000">−20</text>
<line x1="119.1" y1="705.5" x2="130.6" y2="705.5" stroke="#000" stroke-width="2"/>
<text transform="translate(110.80,705.55)" y="11.30" font-size="31" text-anchor="end" fill="#000">0</text>
<line x1="119.1" y1="591.5" x2="130.6" y2="591.5" stroke="#000" stroke-width="2"/>
<text transform="translate(110.80,591.50)" y="11.30" font-size="31" text-anchor="end" fill="#000">20</text>
<line x1="119.1" y1="477.5" x2="130.6" y2="477.5" stroke="#000" stroke-width="2"/>
<text transform="translate(110.80,477.46)" y="11.30" font-size="31" text-anchor="end" fill="#000">40</text>
<line x1="119.1" y1="363.4" x2="130.6" y2="363.4" stroke="#000" stroke-width="2"/>
<text transform="translate(110.80,363.41)" y="11.30" font-size="31" text-anchor="end" fill="#000">60</text>
<text transform="translate(29.70,709.90) rotate(-90) scale(1.0150,1.0000)" font-size="31" text-anchor="middle" fill="#000">Latitude</text>
<rect x="392.6" y="752.3" width="230.7" height="124.8" rx="4" fill="#fff" fill-opacity="0.9" stroke="#ccc" stroke-width="1.2"/>
<line x1="401.2" y1="773.8" x2="457.8" y2="773.8" stroke="#000" stroke-width="2.7"/>
<text transform="translate(477.60,783.80) scale(1.0530,1.0000)" font-size="25.8" font-weight="bold" fill="#000">3Nadirs</text>
<line x1="401.2" y1="813.1" x2="457.8" y2="813.1" stroke="#0a0058" stroke-width="2.7"/>
<text transform="translate(477.60,823.10) scale(1.0500,1.0000)" font-size="25.8" font-weight="bold" fill="#0000c0">12Nadirs</text>
<line x1="401.2" y1="852.4" x2="457.8" y2="852.4" stroke="#6e0008" stroke-width="2.7"/>
<text transform="translate(477.60,862.40) scale(1.0460,1.0000)" font-size="25.8" font-weight="bold" fill="#e00010">2Swaths</text>
<rect x="130.6" y="334.9" width="621.5" height="741.3" fill="none" stroke="#000" stroke-width="2"/>
<text transform="translate(937.30,321.20) scale(1.0056,1.0000)" font-size="26.8" font-weight="bold" fill="#000">(C) Meridional Surface Velocity Variance Error</text>
<line x1="1062.4" y1="334.9" x2="1062.4" y2="1076.2" stroke="#b0b0b0" stroke-width="1.1"/>
<line x1="1186.7" y1="334.9" x2="1186.7" y2="1076.2" stroke="#b0b0b0" stroke-width="1.1"/>
<line x1="1311.0" y1="334.9" x2="1311.0" y2="1076.2" stroke="#b0b0b0" stroke-width="1.1"/>
<line x1="1435.3" y1="334.9" x2="1435.3" y2="1076.2" stroke="#b0b0b0" stroke-width="1.1"/>
<line x1="938.1" y1="1047.7" x2="1559.6" y2="1047.7" stroke="#b0b0b0" stroke-width="1.1"/>
<line x1="938.1" y1="933.6" x2="1559.6" y2="933.6" stroke="#b0b0b0" stroke-width="1.1"/>
<line x1="938.1" y1="819.6" x2="1559.6" y2="819.6" stroke="#b0b0b0" stroke-width="1.1"/>
<line x1="938.1" y1="705.5" x2="1559.6" y2="705.5" stroke="#b0b0b0" stroke-width="1.1"/>
<line x1="938.1" y1="591.5" x2="1559.6" y2="591.5" stroke="#b0b0b0" stroke-width="1.1"/>
<line x1="938.1" y1="477.5" x2="1559.6" y2="477.5" stroke="#b0b0b0" stroke-width="1.1"/>
<line x1="938.1" y1="363.4" x2="1559.6" y2="363.4" stroke="#b0b0b0" stroke-width="1.1"/>
<polyline points="1010.3,336.3 1020.8,340.2 1009.1,342.6 1009.7,344.9 1010.9,347.3 1006.2,347.6 1010.9,347.9 1012.4,349.6 1013.6,352.0 1009.0,352.3 1013.6,352.6 1015.2,354.4 1013.6,356.7 1018.8,357.0 1013.6,357.3 1022.4,359.1 1029.8,361.4 1042.0,363.8 1055.6,366.1 1060.1,368.9 1065.0,369.2 1060.1,369.5 1067.3,371.6 1085.9,375.6 1105.9,378.7 1084.6,381.9 1069.6,385.8 1055.2,388.2 1046.8,390.5 1038.5,392.9 1036.0,395.2 1033.2,397.6 1030.0,397.9 1033.2,398.2 1038.2,399.9 1045.2,402.3 1049.8,402.6 1045.2,402.9 1052.8,404.7 1061.9,407.0 1056.7,407.3 1061.9,407.6 1066.2,409.4 1070.3,411.7 1077.9,414.1 1085.4,416.4 1093.3,418.5 1097.2,420.6 1103.6,422.7 1110.8,425.9 1104.5,429.0 1101.1,429.3 1104.5,429.6 1115.4,431.4 1119.7,431.7 1115.4,432.0 1125.3,433.7 1132.3,436.1 1127.6,436.4 1132.3,436.7 1140.5,438.5 1134.1,440.8 1132.0,443.2 1133.2,445.3 1131.0,447.4 1133.6,449.5 1155.2,452.6 1160.4,454.7 1161.5,456.8 1163.1,458.9 1159.9,462.0 1182.5,465.2 1186.4,468.3 1197.9,471.5 1183.2,474.2 1168.9,477.0 1179.9,479.3 1219.4,483.2 1246.2,485.4 1283.7,489.0 1311.4,491.7 1320.2,493.6 1328.8,495.8 1338.4,498.1 1373.0,500.8 1407.7,503.5 1388.6,506.2 1356.4,507.2 1328.9,509.9 1315.6,511.7 1330.6,513.5 1310.4,515.3 1265.1,518.0 1237.2,520.3 1210.0,522.6 1205.3,524.7 1197.9,526.8 1192.3,528.9 1178.1,531.6 1166.1,534.4 1140.6,536.5 1109.4,540.4 1095.4,544.4 1102.8,548.3 1101.2,548.6 1102.8,548.9 1098.6,550.6 1096.9,550.9 1098.6,551.2 1094.2,553.0 1102.7,555.4 1110.9,557.7 1116.2,559.8 1114.0,560.1 1116.2,560.4 1120.4,561.9 1124.8,564.0 1126.7,564.3 1124.8,564.6 1132.7,566.4 1142.2,568.7 1149.1,571.1 1140.7,573.4 1131.2,575.8 1138.5,579.7 1150.0,582.9 1173.7,586.0 1187.1,587.6 1165.4,591.5 1176.4,593.9 1183.3,597.8 1148.2,599.4 1153.0,602.1 1157.9,604.9 1160.1,607.2 1162.2,609.6 1160.0,612.7 1158.4,613.0 1160.0,613.3 1166.9,615.1 1172.6,617.5 1169.5,617.8 1172.6,618.1 1182.8,619.5 1186.2,619.8 1182.8,620.1 1194.0,621.6 1204.3,623.7 1216.1,626.1 1227.7,628.5 1238.7,630.6 1249.0,632.6 1260.3,634.7 1284.3,636.9 1306.8,639.9 1328.7,642.9 1349.2,645.8 1369.5,648.8 1386.3,650.9 1403.0,653.0 1433.7,656.4 1440.7,658.5 1439.8,658.8 1440.7,659.1 1447.2,660.6 1449.5,663.2 1451.7,665.7 1454.1,668.2 1440.1,671.6 1433.8,674.2 1426.9,676.7 1435.4,678.4 1437.8,680.5 1440.2,682.6 1428.7,685.2 1415.6,687.3 1403.0,689.4 1369.5,692.8 1335.7,696.2 1318.2,698.7 1317.3,699.0 1318.2,699.3 1301.8,701.3 1302.8,701.6 1301.8,701.9 1285.0,703.8 1267.4,706.3 1259.2,708.5 1250.8,710.6 1251.8,710.9 1250.8,711.2 1242.2,712.7 1241.0,713.0 1242.2,713.3 1233.5,714.8 1234.5,717.0 1235.6,717.3 1234.5,717.6 1234.8,719.2 1234.9,721.4 1235.6,723.6 1232.5,725.9 1229.2,728.3 1226.5,730.4 1223.0,732.5 1220.2,734.6 1215.9,736.7 1212.0,738.8 1207.3,740.9 1206.6,743.0 1205.1,745.1 1204.0,747.1 1202.9,747.4 1204.0,747.8 1192.5,749.5 1180.6,751.9 1185.1,754.6 1188.8,757.4 1182.2,759.7 1176.4,762.1 1169.8,764.5 1169.0,766.5 1167.8,766.8 1169.0,767.1 1169.3,768.6 1170.6,768.9 1169.3,769.2 1168.5,770.7 1158.4,773.1 1149.4,775.5 1141.3,777.5 1133.8,779.6 1125.6,781.7 1122.0,784.1 1117.6,786.5 1111.0,789.1 1104.2,791.7 1097.6,794.3 1099.3,796.9 1100.6,799.5 1102.3,802.2 1100.9,802.5 1102.3,802.8 1099.8,804.8 1096.5,807.4 1094.9,810.0 1093.3,810.3 1094.9,810.6 1093.1,812.1 1091.1,814.2 1089.4,816.3 1095.3,818.4 1101.7,820.5 1107.0,822.6 1102.5,825.2 1100.2,825.5 1102.5,825.8 1098.2,827.8 1094.1,830.5 1092.9,833.1 1090.1,835.7 1088.7,838.3 1089.4,840.4 1090.1,842.5 1088.4,842.8 1090.1,843.1 1091.0,844.6 1095.3,846.9 1098.6,849.3 1101.0,849.6 1098.6,849.9 1101.8,851.6 1104.8,854.0 1108.9,856.3 1110.6,858.4 1112.6,860.5 1115.7,862.6 1113.2,864.9 1110.5,867.3 1108.3,869.6 1106.1,872.0 1103.1,874.1 1099.7,876.2 1096.8,878.3 1095.0,878.6 1096.8,878.9 1097.4,880.4 1098.3,882.5 1099.1,884.6 1104.2,886.7 1110.3,888.8 1114.9,890.9 1113.6,893.1 1112.5,895.3 1110.5,897.5 1109.2,899.7 1107.8,901.9 1113.7,904.2 1121.0,906.6 1132.3,908.7 1134.2,909.0 1132.3,909.3 1143.1,910.8 1153.4,912.9 1168.5,915.2 1184.5,917.6 1210.9,921.5 1215.6,925.5 1200.3,929.4 1184.2,932.1 1168.7,934.9 1162.6,937.2 1156.4,939.6 1150.5,942.0 1144.8,944.3 1146.9,948.2 1137.5,951.0 1128.8,953.7 1130.9,954.0 1128.8,954.3 1121.9,956.4 1114.2,959.0 1105.8,961.6 1104.1,964.4 1102.8,967.1 1104.2,967.4 1102.8,967.7 1108.2,969.5 1115.9,971.8 1122.0,974.2 1126.2,976.3 1132.3,978.4 1136.9,980.5 1141.1,983.1 1138.9,983.4 1141.1,983.7 1145.7,985.7 1149.4,988.3 1151.1,990.7 1151.3,993.0 1153.2,995.3 1151.7,995.6 1153.2,995.9 1155.4,998.0 1158.7,1000.6 1160.2,1002.9 1163.6,1003.2 1160.2,1003.5 1163.0,1005.1 1163.9,1007.3 1160.9,1007.6 1163.9,1007.9 1164.3,1010.3 1165.3,1013.3 1178.6,1016.6 1182.5,1019.3 1189.0,1021.9 1197.5,1024.6 1208.0,1027.2 1214.9,1031.2 1218.8,1033.9 1223.2,1034.2 1218.8,1034.5 1226.7,1036.5 1209.3,1038.5 1192.7,1040.5 1165.6,1044.5 1168.5,1044.8 1165.6,1045.1 1149.8,1047.2 1152.9,1047.5 1149.8,1047.8 1132.7,1049.9 1122.5,1053.8 1124.4,1057.8 1132.0,1060.2 1136.7,1062.5 1128.3,1064.8 1124.3,1065.1 1128.3,1065.4 1120.0,1067.2 1105.2,1071.1 1086.5,1075.1 1073.2,1076.7" fill="none" stroke="#000" stroke-width="2.6" stroke-linejoin="round" stroke-linecap="round" clip-path="url(#cR)"/>
<polyline points="1010.3,336.3 1020.8,340.2 1009.1,342.6 1009.7,344.9 1010.9,347.3 1006.2,347.6 1010.9,347.9 1012.4,349.6 1013.6,352.0 1009.0,352.3 1013.6,352.6 1015.2,354.4 1013.6,356.7 1018.8,357.0 1013.6,357.3 1022.4,359.1 1029.8,361.4 1042.0,363.8 1055.6,366.1 1060.1,368.9 1065.0,369.2 1060.1,369.5 1067.3,371.6 1085.9,375.6 1105.9,378.7 1084.6,381.9 1069.6,385.8 1055.2,388.2 1046.8,390.5 1038.5,392.9 1036.0,395.2 1033.2,397.6 1030.0,397.9 1033.2,398.2 1038.2,399.9" fill="none" stroke="#000" stroke-width="4.2" stroke-linejoin="round" stroke-linecap="round" clip-path="url(#cR)"/>
<polyline points="1218.8,1033.9 1223.2,1034.2 1218.8,1034.5 1226.7,1036.5 1209.3,1038.5 1192.7,1040.5 1165.6,1044.5 1168.5,1044.8 1165.6,1045.1 1149.8,1047.2 1152.9,1047.5 1149.8,1047.8 1132.7,1049.9 1122.5,1053.8 1124.4,1057.8 1132.0,1060.2 1136.7,1062.5 1128.3,1064.8 1124.3,1065.1 1128.3,1065.4 1120.0,1067.2 1105.2,1071.1 1086.5,1075.1 1073.2,1076.7" fill="none" stroke="#000" stroke-width="3.6" stroke-linejoin="round" stroke-linecap="round" clip-path="url(#cR)"/>
<polyline points="1142.2,568.7 1149.1,571.1 1140.7,573.4 1131.2,575.8 1138.5,579.7 1150.0,582.9 1173.7,586.0 1187.1,587.6 1165.4,591.5 1176.4,593.9 1183.3,597.8 1148.2,599.4 1153.0,602.1 1157.9,604.9 1160.1,607.2" fill="none" stroke="#000" stroke-width="3.6" stroke-linejoin="round" stroke-linecap="round" clip-path="url(#cR)"/>
<polyline points="1007.8,336.3 1007.3,338.6 1012.6,338.9 1007.3,339.2 1011.3,341.0 1009.0,343.4 1005.2,345.7 1010.3,346.0 1005.2,346.3 1008.8,348.1 1013.1,350.4 1008.7,352.8 1007.1,355.1 1010.0,357.2 1013.8,357.5 1010.0,357.8 1015.6,359.3 1018.5,359.6 1015.6,359.9 1018.6,361.4 1028.5,363.8 1037.4,366.1 1033.5,366.4 1037.4,366.8 1047.2,368.5 1055.0,370.9 1062.8,373.2 1068.9,375.6 1085.9,377.9 1070.4,380.3 1053.4,384.2 1056.6,384.5 1053.4,384.8 1046.6,387.0 1051.2,387.3 1046.6,387.6 1038.4,389.7 1034.8,391.8 1031.3,393.9 1027.7,394.2 1031.3,394.5 1026.3,396.0 1028.8,398.4 1032.6,398.7 1028.8,399.0 1030.4,400.7 1035.8,403.1 1041.3,405.4 1043.6,405.8 1041.3,406.1 1048.3,407.8 1054.9,410.2 1052.4,410.5 1054.9,410.8 1060.3,412.5 1063.4,414.9 1069.2,417.2 1072.2,417.5 1069.2,417.8 1074.3,419.6 1076.6,419.9 1074.3,420.2 1080.4,421.9 1083.5,422.2 1080.4,422.6 1084.8,424.3 1081.8,426.7 1078.7,429.0 1073.5,429.3 1078.7,429.6 1083.9,431.4 1080.7,431.7 1083.9,432.0 1090.0,433.7 1092.3,434.0 1090.0,434.3 1095.6,436.1 1103.5,438.5 1102.4,440.8 1104.8,443.2 1109.7,443.5 1104.8,443.8 1099.5,445.5 1103.5,445.8 1099.5,446.1 1097.0,447.9 1115.2,451.8 1111.3,454.6 1110.8,457.3 1111.0,459.4 1115.5,461.5 1110.3,461.8 1115.5,462.1 1118.3,463.6 1121.3,463.9 1118.3,464.2 1115.4,466.0 1114.0,468.3 1133.4,471.5 1120.8,473.8 1109.1,476.2 1110.9,479.3 1133.1,483.2 1164.7,486.4 1220.2,489.5 1206.3,492.0 1204.8,492.3 1206.3,492.6 1191.1,494.5 1207.4,495.4 1227.0,498.1 1229.5,498.4 1227.0,498.7 1246.9,500.8 1300.5,503.5 1283.1,507.5 1254.2,510.1 1224.3,512.6 1198.6,515.3 1195.5,515.6 1198.6,515.9 1174.8,518.0 1161.2,520.1 1148.5,522.2 1136.3,524.2 1138.8,524.5 1136.3,524.8 1123.1,526.3 1140.7,530.2 1122.8,534.1 1094.8,537.3 1077.8,539.6 1063.4,542.0 1054.3,544.4 1046.2,546.7 1048.1,549.1 1049.6,551.4 1051.5,553.5 1053.5,555.6 1055.6,555.9 1053.5,556.2 1055.5,557.7 1059.6,560.3 1064.1,563.0 1066.6,563.3 1064.1,563.6 1069.9,565.6 1074.4,567.9 1077.2,568.2 1074.4,568.5 1078.2,570.3 1075.9,572.7 1078.8,573.0 1075.9,573.3 1072.3,575.0 1069.8,575.3 1072.3,575.6 1071.4,577.1 1070.9,579.2 1070.7,581.3 1079.2,583.7 1087.2,586.0 1090.3,586.3 1087.2,586.6 1087.4,588.8 1085.4,589.1 1087.4,589.4 1087.3,591.5 1101.1,595.5 1078.7,599.4 1075.8,599.7 1078.7,600.0 1081.8,602.1 1079.9,602.4 1081.8,602.7 1085.4,604.9 1088.2,605.2 1085.4,605.5 1089.7,607.0 1094.1,609.1 1097.5,611.2 1102.8,613.3 1107.3,615.4 1113.2,617.5 1110.2,617.8 1113.2,618.1 1127.4,620.2 1141.3,623.0 1157.5,625.7 1173.2,628.5 1188.5,630.8 1204.7,633.2 1236.1,637.1 1260.3,641.0 1275.9,642.0 1301.8,645.4 1318.2,647.6 1335.2,649.9 1352.2,652.2 1369.5,654.7 1386.2,657.2 1400.7,659.8 1415.2,662.3 1414.6,664.9 1415.0,667.4 1404.5,669.9 1395.0,672.5 1392.1,674.6 1389.6,676.7 1394.2,679.2 1397.7,681.8 1398.5,682.1 1397.7,682.4 1384.0,684.3 1369.3,686.9 1352.2,689.4 1335.6,692.0 1318.1,694.5 1301.3,697.0 1284.6,699.6 1267.7,703.0 1259.7,703.9 1235.5,707.9 1215.0,711.0 1210.9,713.1 1206.0,715.2 1201.5,717.3 1208.2,719.6 1215.4,722.0 1213.6,724.1 1211.4,726.2 1210.2,726.5 1211.4,726.8 1208.9,728.3 1209.8,728.6 1208.9,728.9 1204.2,730.9 1204.8,731.2 1204.2,731.5 1198.2,733.5 1193.7,736.1 1192.0,738.2 1192.7,738.5 1192.0,738.8 1190.0,740.3 1188.8,742.4 1184.8,744.8 1180.9,747.1 1156.9,750.3 1141.8,753.4 1149.0,755.8 1157.3,758.2 1150.7,760.3 1143.4,762.4 1136.4,764.5 1137.2,766.5 1136.7,768.6 1136.2,770.7 1128.1,772.8 1118.3,774.9 1109.7,777.0 1099.5,779.6 1089.5,782.3 1078.2,784.9 1080.5,785.2 1078.2,785.5 1072.9,787.5 1068.4,790.1 1063.5,792.7 1054.4,795.9 1055.6,798.2 1056.8,800.6 1054.5,803.0 1052.3,805.3 1049.7,807.7 1047.7,810.0 1046.1,812.6 1044.5,815.3 1042.1,817.9 1045.7,820.0 1043.4,820.3 1045.7,820.6 1047.0,822.1 1050.6,824.2 1048.1,826.3 1045.7,828.4 1044.3,830.5 1041.5,833.1 1037.8,835.7 1035.3,838.3 1037.5,838.6 1035.3,838.9 1037.9,840.7 1040.7,843.0 1043.5,845.4 1046.1,847.8 1048.1,849.8 1049.2,851.8 1051.4,853.8 1053.8,855.8 1054.9,857.9 1056.2,858.2 1054.9,858.5 1056.2,860.1 1056.0,862.3 1056.8,864.5 1058.3,864.8 1056.8,865.1 1058.6,866.7 1058.9,868.9 1057.5,871.2 1056.7,873.6 1056.7,875.9 1055.4,878.3 1053.3,880.6 1052.5,883.0 1056.0,885.4 1054.4,885.7 1056.0,886.0 1058.9,887.7 1057.5,890.3 1056.9,893.0 1058.3,893.3 1056.9,893.6 1057.1,895.6 1058.2,898.2 1060.8,900.8 1061.8,903.4 1066.9,906.1 1073.6,908.7 1075.8,909.0 1073.6,909.3 1078.6,911.3 1077.3,911.6 1078.6,911.9 1088.8,913.7 1098.4,916.0 1100.1,916.3 1098.4,916.6 1110.2,918.4 1121.5,920.7 1127.1,923.1 1132.3,925.5 1127.4,927.5 1123.0,929.6 1117.7,931.7 1112.1,934.4 1106.3,937.0 1099.6,939.6 1095.4,942.0 1093.9,942.2 1095.4,942.6 1089.9,944.3 1087.0,946.9 1084.4,949.5 1082.4,952.2 1079.9,954.3 1076.9,956.4 1074.7,958.5 1071.6,960.6 1070.0,962.6 1071.6,962.9 1070.0,963.2 1067.6,964.7 1069.0,966.8 1068.4,968.9 1069.7,971.0 1071.9,971.3 1069.7,971.6 1072.9,973.4 1076.8,975.8 1081.1,977.8 1079.8,978.1 1081.1,978.4 1086.5,979.9 1089.4,982.0 1087.4,984.6 1085.2,987.3 1084.0,989.9 1087.4,992.6 1091.8,995.3 1094.3,997.5 1097.7,999.8 1099.9,1002.0 1098.1,1004.6 1096.5,1007.3 1098.1,1011.3 1095.1,1013.3 1104.7,1016.3 1112.6,1019.3 1110.1,1019.6 1112.6,1019.9 1120.4,1021.5 1127.8,1023.7 1132.1,1025.9 1131.7,1029.9 1128.5,1030.2 1131.7,1030.5 1138.5,1032.1 1143.3,1032.4 1138.5,1032.7 1141.7,1034.3 1147.3,1036.5 1135.8,1038.5 1138.4,1038.8 1135.8,1039.1 1127.9,1040.5 1106.2,1044.5 1094.5,1048.5 1084.9,1052.5 1083.7,1054.7 1084.5,1057.0 1088.9,1057.3 1084.5,1057.6 1084.9,1059.2 1098.6,1062.5 1086.4,1065.8 1087.4,1069.8 1074.4,1072.5 1068.4,1074.6 1073.3,1074.9 1068.4,1075.2 1061.2,1076.7" fill="none" stroke="#0606c4" stroke-width="2.6" stroke-linejoin="round" stroke-linecap="round" clip-path="url(#cR)"/>
<polyline points="1007.8,336.3 1007.3,338.6 1012.6,338.9 1007.3,339.2 1011.3,341.0 1009.0,343.4 1005.2,345.7 1010.3,346.0 1005.2,346.3 1008.8,348.1 1013.1,350.4 1008.7,352.8 1007.1,355.1 1010.0,357.2 1013.8,357.5 1010.0,357.8 1015.6,359.3 1018.5,359.6 1015.6,359.9 1018.6,361.4 1028.5,363.8 1037.4,366.1 1033.5,366.4 1037.4,366.8 1047.2,368.5 1055.0,370.9 1062.8,373.2 1068.9,375.6 1085.9,377.9 1070.4,380.3 1053.4,384.2 1056.6,384.5 1053.4,384.8 1046.6,387.0 1051.2,387.3 1046.6,387.6 1038.4,389.7 1034.8,391.8 1031.3,393.9 1027.7,394.2 1031.3,394.5 1026.3,396.0 1028.8,398.4 1032.6,398.7 1028.8,399.0" fill="none" stroke="#0606c4" stroke-width="4.2" stroke-linejoin="round" stroke-linecap="round" clip-path="url(#cR)"/>
<polyline points="1141.7,1034.3 1147.3,1036.5 1135.8,1038.5 1138.4,1038.8 1135.8,1039.1 1127.9,1040.5 1106.2,1044.5 1094.5,1048.5 1084.9,1052.5 1083.7,1054.7 1084.5,1057.0 1088.9,1057.3 1084.5,1057.6 1084.9,1059.2 1098.6,1062.5 1086.4,1065.8 1087.4,1069.8 1074.4,1072.5 1068.4,1074.6 1073.3,1074.9 1068.4,1075.2 1061.2,1076.7" fill="none" stroke="#0606c4" stroke-width="3.6" stroke-linejoin="round" stroke-linecap="round" clip-path="url(#cR)"/>
<polyline points="985.8,335.5 1001.2,337.9 996.2,338.2 1001.2,338.5 998.5,340.2 998.8,342.6 993.7,344.9 992.5,347.3 1002.6,348.9 998.0,351.2 993.3,353.6 999.7,355.1 1004.3,357.5 1010.8,359.9 1026.9,363.8 1038.5,366.1 1025.2,369.3 1049.1,370.9 1059.5,374.0 1070.6,376.4 1056.3,380.3 1048.1,382.7 1041.7,385.0 1030.4,388.9 1016.7,392.9 1010.5,396.8 1020.8,400.7 1025.8,403.1 1027.8,405.4 1025.1,405.8 1027.8,406.1 1031.1,407.8 1032.9,410.2 1029.5,410.5 1032.9,410.8 1035.5,412.5 1031.9,412.8 1035.5,413.1 1034.1,414.9 1031.3,415.2 1034.1,415.5 1040.6,417.0 1043.4,419.1 1048.8,421.2 1043.7,421.5 1048.8,421.8 1047.6,423.3 1044.5,425.4 1047.5,425.7 1044.5,426.0 1044.0,427.4 1043.6,429.5 1046.5,431.6 1048.1,433.7 1052.6,436.1 1053.5,438.5 1055.7,440.8 1057.0,443.2 1058.3,445.3 1060.4,447.4 1061.6,449.5 1072.6,452.6 1074.8,454.7 1076.3,456.8 1079.3,458.9 1075.6,459.2 1079.3,459.5 1079.0,461.0 1079.8,463.1 1078.3,465.2 1083.5,467.5 1085.2,467.8 1083.5,468.1 1086.7,469.9 1103.7,471.5 1085.1,474.6 1083.7,477.0 1093.7,480.9 1116.3,483.2 1147.7,485.6 1179.1,488.0 1220.1,490.3 1216.9,490.6 1220.1,490.9 1228.1,492.9 1238.8,495.5 1236.7,495.8 1238.8,496.1 1246.6,498.1 1260.2,500.4 1275.0,502.6 1246.1,505.4 1209.9,509.0 1189.4,512.6 1171.8,515.3 1155.6,518.0 1141.5,520.6 1126.2,523.1 1128.2,523.4 1126.2,523.7 1114.5,525.5 1102.1,527.9 1103.7,528.2 1102.1,528.5 1101.4,530.0 1101.3,532.1 1100.8,534.1 1078.4,536.5 1054.5,540.4 1048.9,542.8 1042.5,545.1 1048.0,549.1 1041.7,553.0 1048.5,555.4 1054.5,557.7 1056.5,558.0 1054.5,558.3 1061.1,560.1 1067.8,562.4 1075.6,564.8 1073.0,565.1 1075.6,565.4 1081.9,567.1 1099.8,570.3 1083.9,572.7 1081.8,575.4 1084.7,575.7 1081.8,576.0 1081.1,578.2 1079.4,578.5 1081.1,578.8 1088.2,580.5 1086.1,580.8 1088.2,581.1 1093.8,582.9 1106.1,585.2 1108.7,585.5 1106.1,585.8 1117.0,587.6 1097.0,590.7 1113.4,593.9 1126.7,597.8 1087.1,600.2 1095.5,602.3 1097.6,602.6 1095.5,602.9 1103.6,604.4 1110.1,606.5 1111.0,608.5 1111.5,610.6 1113.2,610.9 1111.5,611.2 1111.0,612.7 1116.0,615.5 1118.5,618.2 1141.4,622.2 1152.0,624.3 1162.7,626.4 1172.9,628.5 1204.6,631.6 1236.0,634.7 1259.9,637.1 1276.5,640.0 1293.2,642.9 1314.3,645.8 1335.6,648.8 1349.3,651.3 1363.6,653.9 1377.5,656.4 1384.5,658.9 1391.1,661.5 1398.1,664.0 1398.8,666.6 1400.1,669.1 1395.0,671.2 1389.4,673.3 1394.6,675.9 1399.9,678.4 1404.5,680.5 1410.3,682.6 1398.4,685.2 1386.4,687.7 1369.4,690.3 1352.1,692.8 1335.2,695.3 1318.9,697.9 1313.5,700.4 1308.3,703.0 1287.8,705.5 1267.9,708.0 1259.9,710.2 1235.7,714.1 1220.1,717.3 1223.5,720.0 1226.6,722.8 1216.9,726.7 1212.6,729.1 1209.2,731.4 1202.6,733.8 1196.3,736.1 1189.8,738.2 1184.0,740.3 1177.7,742.4 1179.3,745.6 1168.1,747.9 1157.3,750.3 1137.9,753.4 1149.2,755.8 1150.3,756.1 1149.2,756.4 1160.1,758.2 1152.2,760.3 1144.7,762.4 1137.4,764.5 1137.2,766.5 1136.7,768.6 1137.2,770.7 1127.7,772.8 1118.7,774.9 1109.9,777.0 1099.6,779.6 1088.4,782.3 1078.0,784.9 1074.3,787.2 1068.9,789.6 1064.0,792.0 1059.1,794.3 1060.9,794.6 1059.1,794.9 1060.1,796.4 1059.1,798.5 1060.1,800.6 1056.2,803.0 1057.8,803.3 1056.2,803.6 1054.1,805.3 1050.9,807.7 1046.8,810.0 1045.2,812.6 1044.0,815.3 1042.8,817.9 1043.9,818.2 1042.8,818.5 1045.9,820.5 1048.2,823.1 1052.2,825.8 1049.6,827.8 1046.4,829.9 1043.0,832.0 1040.2,834.1 1042.2,834.4 1040.2,834.7 1037.6,836.2 1034.8,838.3 1036.8,840.9 1037.3,843.6 1034.9,843.9 1037.3,844.2 1039.0,846.2 1036.7,846.5 1039.0,846.8 1041.9,848.3 1043.6,850.5 1046.4,852.6 1049.1,854.7 1052.5,857.1 1056.0,859.4 1054.3,861.8 1053.7,864.1 1052.6,866.2 1050.7,868.3 1051.7,868.6 1050.7,868.9 1048.7,870.4 1050.1,872.8 1051.4,875.1 1052.5,875.4 1051.4,875.8 1048.1,877.5 1045.8,879.9 1048.2,882.2 1049.8,884.6 1059.7,888.5 1054.1,892.4 1052.8,894.8 1052.1,897.1 1052.2,899.2 1052.6,901.3 1052.2,903.4 1062.6,906.6 1071.5,908.9 1078.4,911.3 1087.8,913.7 1098.1,916.0 1121.5,920.0 1126.8,922.3 1126.1,924.7 1125.2,927.0 1115.0,929.4 1105.8,931.7 1098.1,933.8 1090.0,935.9 1082.1,938.0 1075.8,940.1 1068.4,942.2 1061.6,944.3 1057.3,946.9 1053.5,949.5 1049.6,952.2 1045.8,954.3 1042.4,956.4 1040.4,958.5 1036.9,960.6 1034.8,962.6 1031.7,964.7 1034.0,967.1 1034.7,969.5 1037.9,971.8 1040.6,974.2 1041.8,976.5 1043.3,978.9 1043.6,981.2 1044.6,983.6 1045.6,986.0 1047.1,988.3 1050.3,990.6 1052.2,990.9 1050.3,991.2 1053.7,992.8 1056.2,995.1 1059.2,997.3 1068.1,1000.0 1076.3,1002.6 1080.0,1002.9 1076.3,1003.2 1086.4,1005.6 1089.5,1005.9 1086.4,1006.2 1091.8,1008.6 1087.9,1008.9 1091.8,1009.2 1093.9,1011.0 1091.4,1011.2 1093.9,1011.6 1093.5,1013.3 1113.0,1015.9 1123.1,1018.2 1131.3,1020.4 1140.6,1022.6 1152.8,1025.6 1157.3,1025.9 1152.8,1026.2 1164.9,1028.6 1180.5,1031.6 1185.5,1031.9 1180.5,1032.2 1192.5,1034.6 1189.9,1034.9 1192.5,1035.2 1185.8,1036.9 1180.1,1039.2 1175.4,1039.5 1180.1,1039.8 1165.7,1041.9 1162.7,1042.2 1165.7,1042.5 1153.9,1044.5 1142.7,1047.2 1131.9,1049.9 1134.1,1052.5 1137.5,1055.2 1154.5,1059.2 1176.8,1062.5 1152.4,1065.8 1144.7,1068.5 1132.0,1071.1 1100.5,1075.1 1075.9,1076.7" fill="none" stroke="#c8001c" stroke-width="2.6" stroke-linejoin="round" stroke-linecap="round" clip-path="url(#cR)"/>
<polyline points="985.8,335.5 1001.2,337.9 996.2,338.2 1001.2,338.5 998.5,340.2 998.8,342.6 993.7,344.9 992.5,347.3 1002.6,348.9 998.0,351.2 993.3,353.6 999.7,355.1 1004.3,357.5 1010.8,359.9 1026.9,363.8 1038.5,366.1 1025.2,369.3 1049.1,370.9 1059.5,374.0 1070.6,376.4 1056.3,380.3 1048.1,382.7 1041.7,385.0 1030.4,388.9 1016.7,392.9 1010.5,396.8" fill="none" stroke="#c8001c" stroke-width="4.2" stroke-linejoin="round" stroke-linecap="round" clip-path="url(#cR)"/>
<polyline points="1192.5,1034.6 1189.9,1034.9 1192.5,1035.2 1185.8,1036.9 1180.1,1039.2 1175.4,1039.5 1180.1,1039.8 1165.7,1041.9 1162.7,1042.2 1165.7,1042.5 1153.9,1044.5 1142.7,1047.2 1131.9,1049.9 1134.1,1052.5 1137.5,1055.2 1154.5,1059.2 1176.8,1062.5 1152.4,1065.8 1144.7,1068.5 1132.0,1071.1 1100.5,1075.1 1075.9,1076.7" fill="none" stroke="#c8001c" stroke-width="3.6" stroke-linejoin="round" stroke-linecap="round" clip-path="url(#cR)"/>
<polyline points="1099.8,570.3 1083.9,572.7 1081.8,575.4 1084.7,575.7 1081.8,576.0 1081.1,578.2 1079.4,578.5 1081.1,578.8 1088.2,580.5 1086.1,580.8 1088.2,581.1 1093.8,582.9 1106.1,585.2 1108.7,585.5 1106.1,585.8 1117.0,587.6 1097.0,590.7 1113.4,593.9 1126.7,597.8 1087.1,600.2 1095.5,602.3 1097.6,602.6 1095.5,602.9 1103.6,604.4 1110.1,606.5 1111.0,608.5" fill="none" stroke="#c8001c" stroke-width="3.6" stroke-linejoin="round" stroke-linecap="round" clip-path="url(#cR)"/>
<line x1="938.1" y1="1076.2" x2="938.1" y2="1087.2" stroke="#000" stroke-width="2"/>
<text transform="translate(937.30,1118.90)" font-size="31" text-anchor="middle" fill="#000">0</text>
<line x1="1062.4" y1="1076.2" x2="1062.4" y2="1087.2" stroke="#000" stroke-width="2"/>
<text transform="translate(1061.60,1118.90)" font-size="31" text-anchor="middle" fill="#000">100</text>
<line x1="1186.7" y1="1076.2" x2="1186.7" y2="1087.2" stroke="#000" stroke-width="2"/>
<text transform="translate(1185.90,1118.90)" font-size="31" text-anchor="middle" fill="#000">200</text>
<line x1="1311.0" y1="1076.2" x2="1311.0" y2="1087.2" stroke="#000" stroke-width="2"/>
<text transform="translate(1310.20,1118.90)" font-size="31" text-anchor="middle" fill="#000">300</text>
<line x1="1435.3" y1="1076.2" x2="1435.3" y2="1087.2" stroke="#000" stroke-width="2"/>
<text transform="translate(1434.50,1118.90)" font-size="31" text-anchor="middle" fill="#000">400</text>
<line x1="1559.6" y1="1076.2" x2="1559.6" y2="1087.2" stroke="#000" stroke-width="2"/>
<text transform="translate(1558.80,1118.90)" font-size="31" text-anchor="middle" fill="#000">500</text>
<line x1="926.6" y1="1047.7" x2="938.1" y2="1047.7" stroke="#000" stroke-width="2"/>
<text transform="translate(918.30,1047.69)" y="11.30" font-size="31" text-anchor="end" fill="#000">−60</text>
<line x1="926.6" y1="933.6" x2="938.1" y2="933.6" stroke="#000" stroke-width="2"/>
<text transform="translate(918.30,933.64)" y="11.30" font-size="31" text-anchor="end" fill="#000">−40</text>
<line x1="926.6" y1="819.6" x2="938.1" y2="819.6" stroke="#000" stroke-width="2"/>
<text transform="translate(918.30,819.60)" y="11.30" font-size="31" text-anchor="end" fill="#000">−20</text>
<line x1="926.6" y1="705.5" x2="938.1" y2="705.5" stroke="#000" stroke-width="2"/>
<text transform="translate(918.30,705.55)" y="11.30" font-size="31" text-anchor="end" fill="#000">0</text>
<line x1="926.6" y1="591.5" x2="938.1" y2="591.5" stroke="#000" stroke-width="2"/>
<text transform="translate(918.30,591.50)" y="11.30" font-size="31" text-anchor="end" fill="#000">20</text>
<line x1="926.6" y1="477.5" x2="938.1" y2="477.5" stroke="#000" stroke-width="2"/>
<text transform="translate(918.30,477.46)" y="11.30" font-size="31" text-anchor="end" fill="#000">40</text>
<line x1="926.6" y1="363.4" x2="938.1" y2="363.4" stroke="#000" stroke-width="2"/>
<text transform="translate(918.30,363.41)" y="11.30" font-size="31" text-anchor="end" fill="#000">60</text>
<text transform="translate(837.20,709.90) rotate(-90) scale(1.0150,1.0000)" font-size="31" text-anchor="middle" fill="#000">Latitude</text>
<rect x="1200.1" y="752.3" width="230.7" height="124.8" rx="4" fill="#fff" fill-opacity="0.9" stroke="#ccc" stroke-width="1.2"/>
<line x1="1208.7" y1="773.8" x2="1265.3" y2="773.8" stroke="#000" stroke-width="2.7"/>
<text transform="translate(1285.10,783.80) scale(1.0530,1.0000)" font-size="25.8" font-weight="bold" fill="#000">3Nadirs</text>
<line x1="1208.7" y1="813.1" x2="1265.3" y2="813.1" stroke="#0a0058" stroke-width="2.7"/>
<text transform="translate(1285.10,823.10) scale(1.0500,1.0000)" font-size="25.8" font-weight="bold" fill="#0000c0">12Nadirs</text>
<line x1="1208.7" y1="852.4" x2="1265.3" y2="852.4" stroke="#6e0008" stroke-width="2.7"/>
<text transform="translate(1285.10,862.40) scale(1.0460,1.0000)" font-size="25.8" font-weight="bold" fill="#e00010">2Swaths</text>
<rect x="938.1" y="334.9" width="621.5" height="741.3" fill="none" stroke="#000" stroke-width="2"/>
<text transform="translate(185.15,1158.90) scale(1.0430,1.0000)" font-size="25.7" fill="#000">Zonal average variance error</text>
<text transform="translate(585.70,1158.90) scale(1.0430,1.0000)" font-size="25.7" fill="#000">(</text>
<text transform="translate(596.50,1158.90) scale(1.0430,1.0000)" font-size="25.7" font-style="italic" fill="#000">cm</text>
<text transform="translate(637.90,1148.90)" font-size="17.6" fill="#000">2</text>
<text transform="translate(649.80,1158.90) scale(1.0430,1.0000)" font-size="25.7" fill="#000">/</text>
<text transform="translate(657.90,1158.90) scale(1.0430,1.0000)" font-size="25.7" font-style="italic" fill="#000">s</text>
<text transform="translate(674.50,1148.90)" font-size="17.6" fill="#000">2</text>
<text transform="translate(687.30,1158.90) scale(1.0430,1.0000)" font-size="25.7" fill="#000">)</text>
<text transform="translate(961.60,1158.90) scale(1.0430,1.0000)" font-size="25.7" fill="#000">Meridional average variance error</text>
<text transform="translate(1425.40,1158.90) scale(1.0430,1.0000)" font-size="25.7" fill="#000">(</text>
<text transform="translate(1436.20,1158.90) scale(1.0430,1.0000)" font-size="25.7" font-style="italic" fill="#000">cm</text>
<text transform="translate(1477.60,1148.90)" font-size="17.6" fill="#000">2</text>
<text transform="translate(1489.50,1158.90) scale(1.0430,1.0000)" font-size="25.7" fill="#000">/</text>
<text transform="translate(1497.60,1158.90) scale(1.0430,1.0000)" font-size="25.7" font-style="italic" fill="#000">s</text>
<text transform="translate(1514.20,1148.90)" font-size="17.6" fill="#000">2</text>
<text transform="translate(1527.00,1158.90) scale(1.0430,1.0000)" font-size="25.7" fill="#000">)</text>
</svg></body></html>
